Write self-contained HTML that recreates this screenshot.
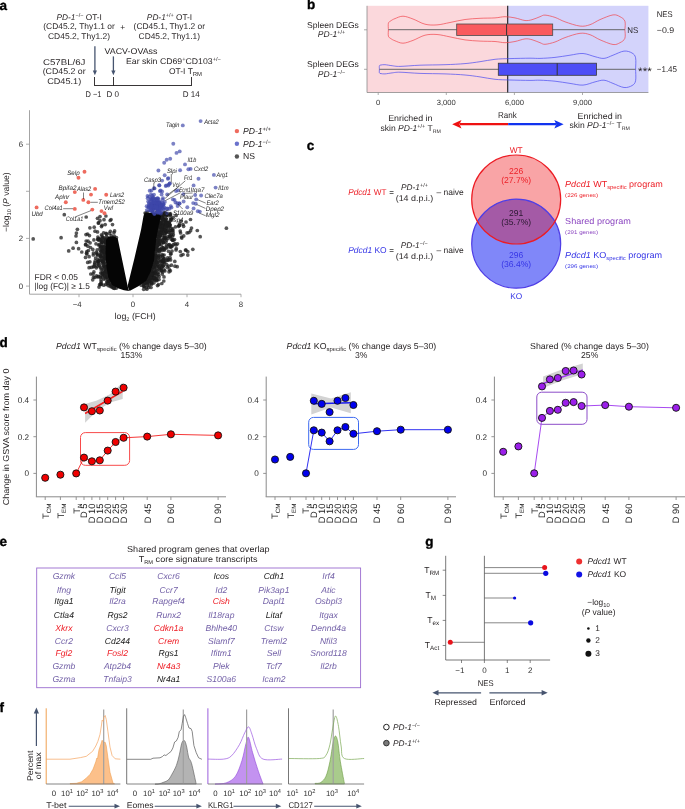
<!DOCTYPE html>
<html><head><meta charset="utf-8"><style>
html,body{margin:0;padding:0;background:#fff;}
svg{display:block;font-family:"Liberation Sans", sans-serif;-webkit-font-smoothing:antialiased;text-rendering:geometricPrecision;will-change:transform;}
</style></head><body>
<svg width="685" height="809" viewBox="0 0 685 809" fill="#231f20">
<text x="-0.60" y="9.90" font-size="13.5" fill="#000" font-weight="bold" stroke="#000" stroke-width="0.35">a</text>
<text x="79.20" y="19.60" font-size="8.3" text-anchor="middle"><tspan font-style="italic">PD-1</tspan><tspan baseline-shift="3.2" font-size="5.5">−/−</tspan> OT-I</text>
<text x="79.00" y="29.00" font-size="8.3" text-anchor="middle" textLength="71.50" lengthAdjust="spacingAndGlyphs">(CD45.2, Thy1.1 or</text>
<text x="79.00" y="38.60" font-size="8.3" text-anchor="middle" textLength="62.00" lengthAdjust="spacingAndGlyphs">CD45.2, Thy1.2)</text>
<text x="122.80" y="29.80" font-size="8.3" text-anchor="middle">+</text>
<text x="169.50" y="19.60" font-size="8.3" text-anchor="middle"><tspan font-style="italic">PD-1</tspan><tspan baseline-shift="3.2" font-size="5.5">+/+</tspan> OT-I</text>
<text x="169.30" y="29.00" font-size="8.3" text-anchor="middle" textLength="71.40" lengthAdjust="spacingAndGlyphs">(CD45.1, Thy1.2 or</text>
<text x="169.30" y="38.60" font-size="8.3" text-anchor="middle" textLength="61.40" lengthAdjust="spacingAndGlyphs">CD45.2, Thy1.1)</text>
<line x1="94.90" y1="46.20" x2="94.90" y2="71.20" stroke="#46546f" stroke-width="1.3" />
<path d="M92.80,70.40 L97.00,70.40 L94.90,75.20 Z" fill="#46546f" stroke="none" stroke-width="0.6" />
<line x1="113.40" y1="56.40" x2="113.40" y2="71.20" stroke="#46546f" stroke-width="1.3" />
<path d="M111.30,70.40 L115.50,70.40 L113.40,75.20 Z" fill="#46546f" stroke="none" stroke-width="0.6" />
<text x="104.50" y="53.70" font-size="8.3" textLength="53.00" lengthAdjust="spacingAndGlyphs">VACV-OVAss</text>
<text x="64.20" y="64.80" font-size="8.3" text-anchor="middle" textLength="42.50" lengthAdjust="spacingAndGlyphs">C57BL/6J</text>
<text x="64.20" y="74.40" font-size="8.3" text-anchor="middle" textLength="43.00" lengthAdjust="spacingAndGlyphs">(CD45.2 or</text>
<text x="64.20" y="83.90" font-size="8.3" text-anchor="middle" textLength="34.00" lengthAdjust="spacingAndGlyphs">CD45.1)</text>
<text x="126.00" y="63.90" font-size="8.3" textLength="95.00" lengthAdjust="spacingAndGlyphs">Ear skin CD69<tspan baseline-shift="3.2" font-size="5.5">+</tspan>CD103<tspan baseline-shift="3.2" font-size="5.5">+/−</tspan></text>
<text x="202.00" y="73.90" font-size="8.3" text-anchor="end" textLength="33.00" lengthAdjust="spacingAndGlyphs">OT-I T<tspan baseline-shift="-2.0" font-size="5.8">RM</tspan></text>
<line x1="94.50" y1="85.50" x2="191.50" y2="85.50" stroke="#231f20" stroke-width="0.9" />
<line x1="94.50" y1="77.00" x2="94.50" y2="85.90" stroke="#231f20" stroke-width="0.9" />
<line x1="113.50" y1="77.00" x2="113.50" y2="85.90" stroke="#231f20" stroke-width="0.9" />
<line x1="191.50" y1="77.00" x2="191.50" y2="85.90" stroke="#231f20" stroke-width="0.9" />
<text x="93.50" y="97.20" font-size="8.3" text-anchor="middle" textLength="16.00" lengthAdjust="spacingAndGlyphs">D −1</text>
<text x="112.80" y="97.20" font-size="8.3" text-anchor="middle" textLength="12.50" lengthAdjust="spacingAndGlyphs">D 0</text>
<text x="191.30" y="97.20" font-size="8.3" text-anchor="middle" textLength="17.00" lengthAdjust="spacingAndGlyphs">D 14</text>
<line x1="29.50" y1="110.20" x2="29.50" y2="294.20" stroke="#9a9a9a" stroke-width="0.9" />
<line x1="29.50" y1="294.20" x2="241.00" y2="294.20" stroke="#9a9a9a" stroke-width="0.9" />
<line x1="26.00" y1="144.20" x2="29.50" y2="144.20" stroke="#9a9a9a" stroke-width="0.8" />
<text x="23.00" y="147.00" font-size="7.8" text-anchor="end" fill="#333">6</text>
<line x1="26.00" y1="191.30" x2="29.50" y2="191.30" stroke="#9a9a9a" stroke-width="0.8" />
<line x1="26.00" y1="238.40" x2="29.50" y2="238.40" stroke="#9a9a9a" stroke-width="0.8" />
<text x="23.00" y="241.20" font-size="7.8" text-anchor="end" fill="#333">2</text>
<line x1="26.00" y1="286.10" x2="29.50" y2="286.10" stroke="#9a9a9a" stroke-width="0.8" />
<text x="23.00" y="288.90" font-size="7.8" text-anchor="end" fill="#333">0</text>
<line x1="79.00" y1="294.20" x2="79.00" y2="297.20" stroke="#9a9a9a" stroke-width="0.8" />
<text x="77.20" y="307.40" font-size="7.8" text-anchor="middle" fill="#333">−4</text>
<line x1="133.00" y1="294.20" x2="133.00" y2="297.20" stroke="#9a9a9a" stroke-width="0.8" />
<text x="133.00" y="307.40" font-size="7.8" text-anchor="middle" fill="#333">0</text>
<line x1="187.00" y1="294.20" x2="187.00" y2="297.20" stroke="#9a9a9a" stroke-width="0.8" />
<text x="187.00" y="307.40" font-size="7.8" text-anchor="middle" fill="#333">4</text>
<line x1="241.00" y1="294.20" x2="241.00" y2="297.20" stroke="#9a9a9a" stroke-width="0.8" />
<text x="241.00" y="307.40" font-size="7.8" text-anchor="middle" fill="#333">8</text>
<text x="135.20" y="319.00" font-size="8.5" text-anchor="middle" textLength="41.20" lengthAdjust="spacingAndGlyphs">log<tspan baseline-shift="-1.8" font-size="5.5">2</tspan> (FCH)</text>
<text x="0.00" y="0.00" font-size="8.5" text-anchor="middle" textLength="59.50" lengthAdjust="spacingAndGlyphs" transform="translate(8.9,202.2) rotate(-90)">−log<tspan baseline-shift="-1.8" font-size="5.6">10</tspan> (<tspan font-style="italic">P</tspan> value)</text>
<text x="34.60" y="279.60" font-size="8.5" textLength="43.40" lengthAdjust="spacingAndGlyphs">FDR &lt; 0.05</text>
<text x="34.60" y="289.00" font-size="8.5" textLength="55.20" lengthAdjust="spacingAndGlyphs">|log (FC)| ≥ 1.5</text>
<g fill="#1c1c1c" fill-opacity="0.74">
<circle cx="101.5" cy="226.6" r="1.85"/>
<circle cx="103.8" cy="249.7" r="1.85"/>
<circle cx="101.0" cy="247.0" r="1.85"/>
<circle cx="105.2" cy="259.5" r="1.85"/>
<circle cx="109.9" cy="281.0" r="1.85"/>
<circle cx="100.9" cy="251.5" r="1.85"/>
<circle cx="105.5" cy="252.8" r="1.85"/>
<circle cx="110.0" cy="284.3" r="1.85"/>
<circle cx="105.0" cy="239.3" r="1.85"/>
<circle cx="110.9" cy="284.0" r="1.85"/>
<circle cx="91.3" cy="267.3" r="1.85"/>
<circle cx="88.4" cy="250.6" r="1.85"/>
<circle cx="102.6" cy="276.8" r="1.85"/>
<circle cx="100.7" cy="273.0" r="1.85"/>
<circle cx="104.1" cy="249.6" r="1.85"/>
<circle cx="102.0" cy="242.2" r="1.85"/>
<circle cx="104.9" cy="258.0" r="1.85"/>
<circle cx="102.4" cy="272.5" r="1.85"/>
<circle cx="107.8" cy="279.1" r="1.85"/>
<circle cx="101.9" cy="273.7" r="1.85"/>
<circle cx="114.3" cy="236.2" r="1.85"/>
<circle cx="107.4" cy="283.7" r="1.85"/>
<circle cx="104.3" cy="252.5" r="1.85"/>
<circle cx="103.6" cy="232.8" r="1.85"/>
<circle cx="87.9" cy="246.2" r="1.85"/>
<circle cx="100.4" cy="276.4" r="1.85"/>
<circle cx="103.9" cy="275.4" r="1.85"/>
<circle cx="93.9" cy="271.9" r="1.85"/>
<circle cx="89.4" cy="235.6" r="1.85"/>
<circle cx="87.6" cy="234.0" r="1.85"/>
<circle cx="86.9" cy="254.1" r="1.85"/>
<circle cx="105.1" cy="249.4" r="1.85"/>
<circle cx="100.9" cy="268.0" r="1.85"/>
<circle cx="105.2" cy="271.2" r="1.85"/>
<circle cx="105.4" cy="266.2" r="1.85"/>
<circle cx="100.4" cy="256.5" r="1.85"/>
<circle cx="102.4" cy="250.6" r="1.85"/>
<circle cx="107.1" cy="274.3" r="1.85"/>
<circle cx="97.7" cy="255.6" r="1.85"/>
<circle cx="101.2" cy="259.9" r="1.85"/>
<circle cx="104.0" cy="256.7" r="1.85"/>
<circle cx="105.5" cy="258.2" r="1.85"/>
<circle cx="97.7" cy="261.5" r="1.85"/>
<circle cx="104.0" cy="219.7" r="1.85"/>
<circle cx="113.7" cy="288.2" r="1.85"/>
<circle cx="105.0" cy="254.5" r="1.85"/>
<circle cx="88.1" cy="241.2" r="1.85"/>
<circle cx="94.8" cy="277.5" r="1.85"/>
<circle cx="96.0" cy="243.8" r="1.85"/>
<circle cx="105.0" cy="241.2" r="1.85"/>
<circle cx="102.3" cy="250.1" r="1.85"/>
<circle cx="102.7" cy="246.4" r="1.85"/>
<circle cx="103.5" cy="266.0" r="1.85"/>
<circle cx="113.9" cy="286.4" r="1.85"/>
<circle cx="111.7" cy="285.0" r="1.85"/>
<circle cx="98.1" cy="259.4" r="1.85"/>
<circle cx="104.0" cy="268.1" r="1.85"/>
<circle cx="86.0" cy="234.6" r="1.85"/>
<circle cx="105.2" cy="271.8" r="1.85"/>
<circle cx="106.8" cy="272.9" r="1.85"/>
<circle cx="104.1" cy="262.8" r="1.85"/>
<circle cx="97.5" cy="218.3" r="1.85"/>
<circle cx="105.9" cy="284.4" r="1.85"/>
<circle cx="107.5" cy="281.2" r="1.85"/>
<circle cx="113.1" cy="286.5" r="1.85"/>
<circle cx="96.5" cy="253.8" r="1.85"/>
<circle cx="114.6" cy="230.9" r="1.85"/>
<circle cx="101.0" cy="250.7" r="1.85"/>
<circle cx="100.7" cy="239.1" r="1.85"/>
<circle cx="104.0" cy="246.3" r="1.85"/>
<circle cx="106.1" cy="239.6" r="1.85"/>
<circle cx="110.9" cy="285.3" r="1.85"/>
<circle cx="100.6" cy="277.6" r="1.85"/>
<circle cx="93.3" cy="255.0" r="1.85"/>
<circle cx="104.3" cy="250.0" r="1.85"/>
<circle cx="100.7" cy="284.4" r="1.85"/>
<circle cx="107.3" cy="238.1" r="1.85"/>
<circle cx="106.0" cy="270.8" r="1.85"/>
<circle cx="102.9" cy="261.2" r="1.85"/>
<circle cx="105.3" cy="242.8" r="1.85"/>
<circle cx="106.7" cy="276.3" r="1.85"/>
<circle cx="98.3" cy="222.9" r="1.85"/>
<circle cx="101.4" cy="242.5" r="1.85"/>
<circle cx="97.5" cy="231.9" r="1.85"/>
<circle cx="102.0" cy="261.1" r="1.85"/>
<circle cx="105.7" cy="239.9" r="1.85"/>
<circle cx="101.2" cy="281.8" r="1.85"/>
<circle cx="101.1" cy="251.2" r="1.85"/>
<circle cx="102.6" cy="249.9" r="1.85"/>
<circle cx="103.1" cy="252.0" r="1.85"/>
<circle cx="111.3" cy="235.7" r="1.85"/>
<circle cx="90.8" cy="274.0" r="1.85"/>
<circle cx="101.0" cy="254.9" r="1.85"/>
<circle cx="105.1" cy="257.0" r="1.85"/>
<circle cx="101.1" cy="247.6" r="1.85"/>
<circle cx="87.7" cy="262.4" r="1.85"/>
<circle cx="105.2" cy="266.4" r="1.85"/>
<circle cx="93.3" cy="266.8" r="1.85"/>
<circle cx="85.9" cy="244.7" r="1.85"/>
<circle cx="96.3" cy="267.8" r="1.85"/>
<circle cx="101.8" cy="263.5" r="1.85"/>
<circle cx="107.2" cy="273.2" r="1.85"/>
<circle cx="101.0" cy="256.3" r="1.85"/>
<circle cx="94.7" cy="264.3" r="1.85"/>
<circle cx="98.2" cy="263.8" r="1.85"/>
<circle cx="103.7" cy="256.8" r="1.85"/>
<circle cx="99.4" cy="239.3" r="1.85"/>
<circle cx="97.7" cy="276.9" r="1.85"/>
<circle cx="99.1" cy="265.3" r="1.85"/>
<circle cx="106.3" cy="271.2" r="1.85"/>
<circle cx="114.4" cy="288.3" r="1.85"/>
<circle cx="102.4" cy="247.6" r="1.85"/>
<circle cx="102.2" cy="240.9" r="1.85"/>
<circle cx="101.9" cy="244.5" r="1.85"/>
<circle cx="105.7" cy="247.1" r="1.85"/>
<circle cx="92.7" cy="279.8" r="1.85"/>
<circle cx="107.5" cy="277.5" r="1.85"/>
<circle cx="105.9" cy="277.3" r="1.85"/>
<circle cx="103.6" cy="262.5" r="1.85"/>
<circle cx="112.0" cy="287.3" r="1.85"/>
<circle cx="100.4" cy="246.4" r="1.85"/>
<circle cx="105.6" cy="242.9" r="1.85"/>
<circle cx="104.7" cy="274.1" r="1.85"/>
<circle cx="109.6" cy="280.6" r="1.85"/>
<circle cx="104.6" cy="254.2" r="1.85"/>
<circle cx="101.6" cy="241.2" r="1.85"/>
<circle cx="106.6" cy="268.9" r="1.85"/>
<circle cx="98.3" cy="261.4" r="1.85"/>
<circle cx="105.1" cy="258.7" r="1.85"/>
<circle cx="99.0" cy="287.1" r="1.85"/>
<circle cx="106.6" cy="269.2" r="1.85"/>
<circle cx="106.5" cy="268.1" r="1.85"/>
<circle cx="104.8" cy="276.1" r="1.85"/>
<circle cx="93.4" cy="253.1" r="1.85"/>
<circle cx="103.0" cy="269.9" r="1.85"/>
<circle cx="109.1" cy="280.8" r="1.85"/>
<circle cx="105.2" cy="265.0" r="1.85"/>
<circle cx="105.9" cy="216.0" r="1.85"/>
<circle cx="98.1" cy="262.7" r="1.85"/>
<circle cx="105.8" cy="258.4" r="1.85"/>
<circle cx="97.0" cy="266.2" r="1.85"/>
<circle cx="113.6" cy="286.2" r="1.85"/>
<circle cx="105.0" cy="242.2" r="1.85"/>
<circle cx="104.1" cy="257.9" r="1.85"/>
<circle cx="94.6" cy="262.9" r="1.85"/>
<circle cx="106.0" cy="233.3" r="1.85"/>
<circle cx="105.3" cy="257.4" r="1.85"/>
<circle cx="104.2" cy="238.2" r="1.85"/>
<circle cx="101.3" cy="269.9" r="1.85"/>
<circle cx="104.4" cy="252.4" r="1.85"/>
<circle cx="97.9" cy="239.3" r="1.85"/>
<circle cx="100.0" cy="220.7" r="1.85"/>
<circle cx="97.2" cy="249.9" r="1.85"/>
<circle cx="90.1" cy="242.8" r="1.85"/>
<circle cx="97.8" cy="239.4" r="1.85"/>
<circle cx="104.1" cy="253.2" r="1.85"/>
<circle cx="116.2" cy="288.2" r="1.85"/>
<circle cx="110.2" cy="220.5" r="1.85"/>
<circle cx="106.8" cy="282.0" r="1.85"/>
<circle cx="86.5" cy="253.2" r="1.85"/>
<circle cx="100.0" cy="248.4" r="1.85"/>
<circle cx="97.8" cy="254.2" r="1.85"/>
<circle cx="106.1" cy="268.2" r="1.85"/>
<circle cx="104.1" cy="247.0" r="1.85"/>
<circle cx="106.2" cy="270.5" r="1.85"/>
<circle cx="102.0" cy="225.3" r="1.85"/>
<circle cx="105.1" cy="262.2" r="1.85"/>
<circle cx="102.1" cy="236.1" r="1.85"/>
<circle cx="99.5" cy="244.5" r="1.85"/>
<circle cx="103.9" cy="252.1" r="1.85"/>
<circle cx="102.9" cy="260.9" r="1.85"/>
<circle cx="102.9" cy="273.9" r="1.85"/>
<circle cx="102.7" cy="241.9" r="1.85"/>
<circle cx="104.8" cy="272.5" r="1.85"/>
<circle cx="105.8" cy="244.8" r="1.85"/>
<circle cx="103.7" cy="279.1" r="1.85"/>
<circle cx="101.7" cy="258.1" r="1.85"/>
<circle cx="99.4" cy="260.4" r="1.85"/>
<circle cx="104.1" cy="258.8" r="1.85"/>
<circle cx="110.3" cy="231.3" r="1.85"/>
<circle cx="90.5" cy="247.5" r="1.85"/>
<circle cx="105.2" cy="278.8" r="1.85"/>
<circle cx="108.9" cy="281.0" r="1.85"/>
<circle cx="102.3" cy="261.8" r="1.85"/>
<circle cx="106.9" cy="277.2" r="1.85"/>
<circle cx="112.3" cy="286.6" r="1.85"/>
<circle cx="110.2" cy="286.5" r="1.85"/>
<circle cx="95.6" cy="258.1" r="1.85"/>
<circle cx="116.4" cy="237.6" r="1.85"/>
<circle cx="103.7" cy="285.2" r="1.85"/>
<circle cx="106.5" cy="233.8" r="1.85"/>
<circle cx="108.3" cy="283.3" r="1.85"/>
<circle cx="100.9" cy="283.3" r="1.85"/>
<circle cx="93.1" cy="273.9" r="1.85"/>
<circle cx="95.2" cy="260.9" r="1.85"/>
<circle cx="108.2" cy="285.6" r="1.85"/>
<circle cx="86.8" cy="251.7" r="1.85"/>
<circle cx="98.7" cy="238.6" r="1.85"/>
<circle cx="104.8" cy="247.5" r="1.85"/>
<circle cx="104.5" cy="266.9" r="1.85"/>
<circle cx="103.5" cy="265.7" r="1.85"/>
<circle cx="108.9" cy="281.3" r="1.85"/>
<circle cx="100.9" cy="256.7" r="1.85"/>
<circle cx="102.2" cy="238.1" r="1.85"/>
<circle cx="101.0" cy="279.9" r="1.85"/>
<circle cx="99.6" cy="284.7" r="1.85"/>
<circle cx="101.1" cy="284.3" r="1.85"/>
<circle cx="114.3" cy="286.5" r="1.85"/>
<circle cx="104.4" cy="247.7" r="1.85"/>
<circle cx="99.0" cy="240.4" r="1.85"/>
<circle cx="96.5" cy="275.8" r="1.85"/>
<circle cx="100.3" cy="254.5" r="1.85"/>
<circle cx="180.3" cy="251.5" r="1.85"/>
<circle cx="154.8" cy="253.2" r="1.85"/>
<circle cx="162.7" cy="261.7" r="1.85"/>
<circle cx="157.1" cy="235.3" r="1.85"/>
<circle cx="159.4" cy="243.9" r="1.85"/>
<circle cx="152.0" cy="268.0" r="1.85"/>
<circle cx="158.0" cy="243.4" r="1.85"/>
<circle cx="169.0" cy="271.8" r="1.85"/>
<circle cx="172.7" cy="230.0" r="1.85"/>
<circle cx="146.3" cy="213.2" r="1.85"/>
<circle cx="152.1" cy="270.9" r="1.85"/>
<circle cx="164.5" cy="249.9" r="1.85"/>
<circle cx="151.0" cy="287.5" r="1.85"/>
<circle cx="157.2" cy="256.4" r="1.85"/>
<circle cx="162.2" cy="216.3" r="1.85"/>
<circle cx="155.6" cy="255.7" r="1.85"/>
<circle cx="159.5" cy="244.6" r="1.85"/>
<circle cx="162.2" cy="233.4" r="1.85"/>
<circle cx="181.8" cy="238.1" r="1.85"/>
<circle cx="148.3" cy="277.2" r="1.85"/>
<circle cx="156.5" cy="242.3" r="1.85"/>
<circle cx="172.3" cy="246.0" r="1.85"/>
<circle cx="163.7" cy="258.5" r="1.85"/>
<circle cx="163.1" cy="262.3" r="1.85"/>
<circle cx="167.4" cy="215.1" r="1.85"/>
<circle cx="168.8" cy="259.7" r="1.85"/>
<circle cx="159.6" cy="234.4" r="1.85"/>
<circle cx="155.7" cy="256.1" r="1.85"/>
<circle cx="151.5" cy="282.3" r="1.85"/>
<circle cx="154.3" cy="264.0" r="1.85"/>
<circle cx="183.0" cy="224.5" r="1.85"/>
<circle cx="154.3" cy="274.1" r="1.85"/>
<circle cx="165.2" cy="239.1" r="1.85"/>
<circle cx="158.8" cy="262.0" r="1.85"/>
<circle cx="164.7" cy="220.1" r="1.85"/>
<circle cx="160.2" cy="240.2" r="1.85"/>
<circle cx="153.6" cy="277.9" r="1.85"/>
<circle cx="190.6" cy="230.7" r="1.85"/>
<circle cx="156.2" cy="243.3" r="1.85"/>
<circle cx="166.4" cy="215.5" r="1.85"/>
<circle cx="146.9" cy="279.5" r="1.85"/>
<circle cx="166.0" cy="213.6" r="1.85"/>
<circle cx="161.2" cy="268.4" r="1.85"/>
<circle cx="169.7" cy="236.8" r="1.85"/>
<circle cx="158.8" cy="231.3" r="1.85"/>
<circle cx="161.8" cy="267.3" r="1.85"/>
<circle cx="164.9" cy="220.3" r="1.85"/>
<circle cx="156.5" cy="259.7" r="1.85"/>
<circle cx="152.9" cy="272.8" r="1.85"/>
<circle cx="159.7" cy="234.4" r="1.85"/>
<circle cx="154.0" cy="277.9" r="1.85"/>
<circle cx="157.9" cy="232.1" r="1.85"/>
<circle cx="180.2" cy="231.1" r="1.85"/>
<circle cx="155.8" cy="244.2" r="1.85"/>
<circle cx="154.8" cy="259.2" r="1.85"/>
<circle cx="163.0" cy="214.2" r="1.85"/>
<circle cx="159.6" cy="267.8" r="1.85"/>
<circle cx="163.7" cy="219.3" r="1.85"/>
<circle cx="160.1" cy="223.5" r="1.85"/>
<circle cx="148.7" cy="287.5" r="1.85"/>
<circle cx="169.1" cy="222.6" r="1.85"/>
<circle cx="161.5" cy="244.2" r="1.85"/>
<circle cx="147.5" cy="212.0" r="1.85"/>
<circle cx="159.8" cy="269.0" r="1.85"/>
<circle cx="160.6" cy="232.0" r="1.85"/>
<circle cx="163.9" cy="239.0" r="1.85"/>
<circle cx="164.2" cy="212.7" r="1.85"/>
<circle cx="160.3" cy="224.3" r="1.85"/>
<circle cx="157.5" cy="245.2" r="1.85"/>
<circle cx="162.7" cy="255.5" r="1.85"/>
<circle cx="170.9" cy="230.3" r="1.85"/>
<circle cx="166.9" cy="227.9" r="1.85"/>
<circle cx="164.7" cy="238.0" r="1.85"/>
<circle cx="163.6" cy="217.9" r="1.85"/>
<circle cx="149.8" cy="279.6" r="1.85"/>
<circle cx="165.5" cy="224.3" r="1.85"/>
<circle cx="163.5" cy="237.6" r="1.85"/>
<circle cx="187.1" cy="232.9" r="1.85"/>
<circle cx="150.6" cy="274.7" r="1.85"/>
<circle cx="181.0" cy="221.2" r="1.85"/>
<circle cx="152.6" cy="278.5" r="1.85"/>
<circle cx="153.6" cy="266.6" r="1.85"/>
<circle cx="178.6" cy="226.3" r="1.85"/>
<circle cx="172.8" cy="228.7" r="1.85"/>
<circle cx="165.8" cy="218.5" r="1.85"/>
<circle cx="166.1" cy="214.1" r="1.85"/>
<circle cx="155.3" cy="271.5" r="1.85"/>
<circle cx="163.5" cy="242.4" r="1.85"/>
<circle cx="153.2" cy="266.4" r="1.85"/>
<circle cx="170.6" cy="245.9" r="1.85"/>
<circle cx="173.3" cy="234.8" r="1.85"/>
<circle cx="161.5" cy="270.7" r="1.85"/>
<circle cx="154.8" cy="263.6" r="1.85"/>
<circle cx="161.2" cy="249.3" r="1.85"/>
<circle cx="156.8" cy="236.6" r="1.85"/>
<circle cx="151.3" cy="270.5" r="1.85"/>
<circle cx="177.5" cy="243.8" r="1.85"/>
<circle cx="162.4" cy="226.7" r="1.85"/>
<circle cx="153.9" cy="266.4" r="1.85"/>
<circle cx="161.5" cy="231.8" r="1.85"/>
<circle cx="156.8" cy="251.2" r="1.85"/>
<circle cx="161.3" cy="270.7" r="1.85"/>
<circle cx="157.2" cy="265.1" r="1.85"/>
<circle cx="156.2" cy="261.3" r="1.85"/>
<circle cx="168.9" cy="266.2" r="1.85"/>
<circle cx="155.7" cy="269.5" r="1.85"/>
<circle cx="154.0" cy="282.8" r="1.85"/>
<circle cx="146.1" cy="281.6" r="1.85"/>
<circle cx="163.0" cy="260.1" r="1.85"/>
<circle cx="158.0" cy="250.2" r="1.85"/>
<circle cx="165.9" cy="222.2" r="1.85"/>
<circle cx="151.5" cy="284.2" r="1.85"/>
<circle cx="164.8" cy="262.8" r="1.85"/>
<circle cx="171.5" cy="265.2" r="1.85"/>
<circle cx="175.0" cy="266.2" r="1.85"/>
<circle cx="154.6" cy="272.7" r="1.85"/>
<circle cx="192.8" cy="249.3" r="1.85"/>
<circle cx="173.1" cy="217.3" r="1.85"/>
<circle cx="163.2" cy="215.4" r="1.85"/>
<circle cx="170.4" cy="270.8" r="1.85"/>
<circle cx="150.1" cy="278.2" r="1.85"/>
<circle cx="159.8" cy="236.6" r="1.85"/>
<circle cx="147.2" cy="282.1" r="1.85"/>
<circle cx="143.2" cy="283.0" r="1.85"/>
<circle cx="154.6" cy="280.2" r="1.85"/>
<circle cx="165.0" cy="233.5" r="1.85"/>
<circle cx="163.1" cy="265.0" r="1.85"/>
<circle cx="161.4" cy="220.9" r="1.85"/>
<circle cx="155.8" cy="249.2" r="1.85"/>
<circle cx="156.5" cy="242.2" r="1.85"/>
<circle cx="155.9" cy="245.9" r="1.85"/>
<circle cx="150.0" cy="274.5" r="1.85"/>
<circle cx="155.4" cy="247.4" r="1.85"/>
<circle cx="170.6" cy="259.9" r="1.85"/>
<circle cx="159.3" cy="234.7" r="1.85"/>
<circle cx="166.4" cy="222.3" r="1.85"/>
<circle cx="163.1" cy="266.3" r="1.85"/>
<circle cx="168.2" cy="236.5" r="1.85"/>
<circle cx="144.9" cy="283.2" r="1.85"/>
<circle cx="180.6" cy="233.0" r="1.85"/>
<circle cx="170.5" cy="219.7" r="1.85"/>
<circle cx="170.6" cy="213.9" r="1.85"/>
<circle cx="163.4" cy="225.6" r="1.85"/>
<circle cx="169.9" cy="226.5" r="1.85"/>
<circle cx="156.7" cy="262.2" r="1.85"/>
<circle cx="162.7" cy="228.6" r="1.85"/>
<circle cx="157.3" cy="273.7" r="1.85"/>
<circle cx="164.1" cy="269.9" r="1.85"/>
<circle cx="162.5" cy="235.0" r="1.85"/>
<circle cx="161.6" cy="231.2" r="1.85"/>
<circle cx="153.9" cy="261.4" r="1.85"/>
<circle cx="169.7" cy="224.3" r="1.85"/>
<circle cx="151.8" cy="278.3" r="1.85"/>
<circle cx="168.5" cy="227.7" r="1.85"/>
<circle cx="160.4" cy="265.2" r="1.85"/>
<circle cx="165.6" cy="224.8" r="1.85"/>
<circle cx="156.1" cy="262.1" r="1.85"/>
<circle cx="151.9" cy="275.1" r="1.85"/>
<circle cx="166.2" cy="214.7" r="1.85"/>
<circle cx="162.2" cy="227.7" r="1.85"/>
<circle cx="156.7" cy="236.6" r="1.85"/>
<circle cx="166.0" cy="242.1" r="1.85"/>
<circle cx="163.1" cy="242.1" r="1.85"/>
<circle cx="170.3" cy="214.8" r="1.85"/>
<circle cx="158.6" cy="257.7" r="1.85"/>
<circle cx="162.1" cy="261.1" r="1.85"/>
<circle cx="157.9" cy="239.3" r="1.85"/>
<circle cx="166.3" cy="219.1" r="1.85"/>
<circle cx="152.6" cy="272.1" r="1.85"/>
<circle cx="156.1" cy="257.0" r="1.85"/>
<circle cx="171.0" cy="246.3" r="1.85"/>
<circle cx="155.6" cy="255.9" r="1.85"/>
<circle cx="159.9" cy="259.6" r="1.85"/>
<circle cx="154.3" cy="272.5" r="1.85"/>
<circle cx="181.1" cy="255.4" r="1.85"/>
<circle cx="158.4" cy="230.8" r="1.85"/>
<circle cx="162.7" cy="240.5" r="1.85"/>
<circle cx="156.2" cy="250.8" r="1.85"/>
<circle cx="155.0" cy="259.1" r="1.85"/>
<circle cx="166.6" cy="264.5" r="1.85"/>
<circle cx="158.6" cy="274.6" r="1.85"/>
<circle cx="161.9" cy="247.4" r="1.85"/>
<circle cx="170.1" cy="225.3" r="1.85"/>
<circle cx="164.0" cy="276.9" r="1.85"/>
<circle cx="160.4" cy="224.1" r="1.85"/>
<circle cx="159.0" cy="226.6" r="1.85"/>
<circle cx="159.9" cy="249.0" r="1.85"/>
<circle cx="150.5" cy="276.6" r="1.85"/>
<circle cx="141.2" cy="285.2" r="1.85"/>
<circle cx="175.5" cy="226.8" r="1.85"/>
<circle cx="169.9" cy="221.3" r="1.85"/>
<circle cx="172.4" cy="239.7" r="1.85"/>
<circle cx="171.1" cy="239.1" r="1.85"/>
<circle cx="156.8" cy="276.2" r="1.85"/>
<circle cx="159.3" cy="223.6" r="1.85"/>
<circle cx="161.2" cy="264.7" r="1.85"/>
<circle cx="162.5" cy="257.2" r="1.85"/>
<circle cx="156.5" cy="249.2" r="1.85"/>
<circle cx="161.8" cy="283.5" r="1.85"/>
<circle cx="166.4" cy="245.0" r="1.85"/>
<circle cx="161.8" cy="215.3" r="1.85"/>
<circle cx="151.0" cy="271.4" r="1.85"/>
<circle cx="151.1" cy="274.1" r="1.85"/>
<circle cx="169.7" cy="230.6" r="1.85"/>
<circle cx="163.7" cy="229.5" r="1.85"/>
<circle cx="166.4" cy="221.7" r="1.85"/>
<circle cx="164.1" cy="255.0" r="1.85"/>
<circle cx="146.4" cy="287.8" r="1.85"/>
<circle cx="162.5" cy="219.5" r="1.85"/>
<circle cx="151.5" cy="277.0" r="1.85"/>
<circle cx="152.2" cy="274.8" r="1.85"/>
<circle cx="156.7" cy="270.3" r="1.85"/>
<circle cx="154.2" cy="267.5" r="1.85"/>
<circle cx="149.3" cy="278.8" r="1.85"/>
<circle cx="146.6" cy="280.5" r="1.85"/>
<circle cx="168.7" cy="223.1" r="1.85"/>
<circle cx="159.6" cy="252.0" r="1.85"/>
<circle cx="166.3" cy="248.2" r="1.85"/>
<circle cx="157.2" cy="243.7" r="1.85"/>
<circle cx="164.7" cy="237.8" r="1.85"/>
<circle cx="150.7" cy="278.7" r="1.85"/>
<circle cx="148.8" cy="280.9" r="1.85"/>
<circle cx="150.2" cy="278.3" r="1.85"/>
<circle cx="157.1" cy="266.4" r="1.85"/>
<circle cx="146.9" cy="283.9" r="1.85"/>
<circle cx="164.3" cy="227.9" r="1.85"/>
<circle cx="154.1" cy="277.8" r="1.85"/>
<circle cx="152.6" cy="276.7" r="1.85"/>
<circle cx="171.2" cy="219.1" r="1.85"/>
<circle cx="163.5" cy="224.4" r="1.85"/>
<circle cx="159.5" cy="242.8" r="1.85"/>
<circle cx="152.8" cy="274.6" r="1.85"/>
<circle cx="164.9" cy="270.9" r="1.85"/>
<circle cx="143.7" cy="289.3" r="1.85"/>
<circle cx="160.9" cy="222.8" r="1.85"/>
<circle cx="158.3" cy="228.4" r="1.85"/>
<circle cx="168.9" cy="232.4" r="1.85"/>
<circle cx="149.2" cy="285.0" r="1.85"/>
<circle cx="163.3" cy="226.7" r="1.85"/>
<circle cx="168.5" cy="244.8" r="1.85"/>
<circle cx="166.2" cy="232.0" r="1.85"/>
<circle cx="166.0" cy="232.2" r="1.85"/>
<circle cx="160.2" cy="226.6" r="1.85"/>
<circle cx="154.5" cy="260.3" r="1.85"/>
<circle cx="158.3" cy="272.2" r="1.85"/>
<circle cx="151.8" cy="278.2" r="1.85"/>
<circle cx="174.5" cy="239.6" r="1.85"/>
<circle cx="154.4" cy="268.6" r="1.85"/>
<circle cx="156.2" cy="278.0" r="1.85"/>
<circle cx="157.1" cy="249.4" r="1.85"/>
<circle cx="152.7" cy="212.4" r="1.85"/>
<circle cx="161.0" cy="217.9" r="1.85"/>
<circle cx="147.7" cy="285.4" r="1.85"/>
<circle cx="144.5" cy="283.1" r="1.85"/>
<circle cx="175.0" cy="243.7" r="1.85"/>
<circle cx="146.8" cy="289.2" r="1.85"/>
<circle cx="158.5" cy="269.1" r="1.85"/>
<circle cx="169.3" cy="225.3" r="1.85"/>
<circle cx="200.2" cy="236.7" r="1.85"/>
<circle cx="148.9" cy="275.4" r="1.85"/>
<circle cx="162.6" cy="271.9" r="1.85"/>
<circle cx="150.4" cy="275.3" r="1.85"/>
<circle cx="157.1" cy="243.9" r="1.85"/>
<circle cx="166.2" cy="247.2" r="1.85"/>
<circle cx="145.2" cy="283.1" r="1.85"/>
<circle cx="170.9" cy="247.3" r="1.85"/>
<circle cx="159.1" cy="276.5" r="1.85"/>
<circle cx="151.9" cy="283.4" r="1.85"/>
<circle cx="166.6" cy="240.1" r="1.85"/>
<circle cx="153.7" cy="279.5" r="1.85"/>
<circle cx="157.5" cy="285.6" r="1.85"/>
<circle cx="164.0" cy="261.9" r="1.85"/>
<circle cx="159.8" cy="212.0" r="1.85"/>
<circle cx="165.5" cy="222.8" r="1.85"/>
<circle cx="157.3" cy="236.6" r="1.85"/>
<circle cx="158.4" cy="240.0" r="1.85"/>
<circle cx="155.3" cy="273.1" r="1.85"/>
<circle cx="166.5" cy="214.0" r="1.85"/>
<circle cx="173.3" cy="244.6" r="1.85"/>
<circle cx="187.8" cy="251.7" r="1.85"/>
<circle cx="155.6" cy="278.7" r="1.85"/>
<circle cx="155.4" cy="248.0" r="1.85"/>
<circle cx="155.2" cy="263.5" r="1.85"/>
<circle cx="156.2" cy="247.0" r="1.85"/>
<circle cx="158.5" cy="236.0" r="1.85"/>
<circle cx="171.4" cy="234.8" r="1.85"/>
<circle cx="153.3" cy="265.9" r="1.85"/>
<circle cx="153.7" cy="278.0" r="1.85"/>
<circle cx="150.3" cy="272.9" r="1.85"/>
<circle cx="162.1" cy="223.4" r="1.85"/>
<circle cx="154.2" cy="277.4" r="1.85"/>
<circle cx="159.9" cy="235.8" r="1.85"/>
<circle cx="165.3" cy="231.1" r="1.85"/>
<circle cx="160.4" cy="256.6" r="1.85"/>
<circle cx="167.0" cy="215.0" r="1.85"/>
<circle cx="170.2" cy="215.7" r="1.85"/>
<circle cx="156.9" cy="266.4" r="1.85"/>
<circle cx="147.9" cy="282.5" r="1.85"/>
<circle cx="160.3" cy="235.4" r="1.85"/>
<circle cx="167.1" cy="226.2" r="1.85"/>
<circle cx="150.1" cy="280.5" r="1.85"/>
<circle cx="159.1" cy="266.5" r="1.85"/>
<circle cx="159.0" cy="255.8" r="1.85"/>
<circle cx="156.7" cy="280.7" r="1.85"/>
<circle cx="161.2" cy="261.3" r="1.85"/>
<circle cx="145.1" cy="213.0" r="1.85"/>
<circle cx="154.8" cy="258.7" r="1.85"/>
<circle cx="160.6" cy="235.0" r="1.85"/>
<circle cx="161.8" cy="226.9" r="1.85"/>
<circle cx="165.4" cy="214.2" r="1.85"/>
<circle cx="163.1" cy="247.7" r="1.85"/>
<circle cx="162.1" cy="230.4" r="1.85"/>
<circle cx="162.9" cy="218.7" r="1.85"/>
<circle cx="158.1" cy="233.8" r="1.85"/>
<circle cx="158.2" cy="232.6" r="1.85"/>
<circle cx="157.9" cy="264.6" r="1.85"/>
<circle cx="157.5" cy="262.6" r="1.85"/>
<circle cx="179.6" cy="223.8" r="1.85"/>
<circle cx="165.9" cy="237.9" r="1.85"/>
<circle cx="157.0" cy="246.8" r="1.85"/>
<circle cx="144.3" cy="286.6" r="1.85"/>
<circle cx="164.4" cy="260.6" r="1.85"/>
<circle cx="147.5" cy="280.2" r="1.85"/>
<circle cx="154.1" cy="260.1" r="1.85"/>
<circle cx="169.5" cy="244.6" r="1.85"/>
<circle cx="167.8" cy="238.5" r="1.85"/>
<circle cx="161.9" cy="222.6" r="1.85"/>
<circle cx="158.9" cy="251.1" r="1.85"/>
<circle cx="157.1" cy="240.7" r="1.85"/>
<circle cx="156.6" cy="240.9" r="1.85"/>
<circle cx="152.7" cy="274.4" r="1.85"/>
<circle cx="158.5" cy="284.7" r="1.85"/>
<circle cx="162.0" cy="218.3" r="1.85"/>
<circle cx="171.6" cy="219.0" r="1.85"/>
<circle cx="151.6" cy="274.7" r="1.85"/>
<circle cx="164.1" cy="214.8" r="1.85"/>
<circle cx="157.6" cy="239.8" r="1.85"/>
<circle cx="163.4" cy="224.8" r="1.85"/>
<circle cx="150.9" cy="271.5" r="1.85"/>
<circle cx="161.9" cy="213.4" r="1.85"/>
<circle cx="152.3" cy="267.6" r="1.85"/>
<circle cx="173.0" cy="232.7" r="1.85"/>
<circle cx="157.4" cy="241.8" r="1.85"/>
<circle cx="156.8" cy="211.8" r="1.85"/>
<circle cx="162.3" cy="274.1" r="1.85"/>
<circle cx="169.4" cy="269.5" r="1.85"/>
<circle cx="159.6" cy="238.3" r="1.85"/>
<circle cx="156.0" cy="253.3" r="1.85"/>
<circle cx="161.7" cy="229.5" r="1.85"/>
<circle cx="170.9" cy="253.4" r="1.85"/>
<circle cx="159.6" cy="227.5" r="1.85"/>
<circle cx="162.6" cy="214.4" r="1.85"/>
<circle cx="144.1" cy="286.2" r="1.85"/>
<circle cx="159.7" cy="224.0" r="1.85"/>
<circle cx="163.6" cy="248.3" r="1.85"/>
<circle cx="164.3" cy="258.6" r="1.85"/>
<circle cx="163.2" cy="231.3" r="1.85"/>
<circle cx="160.2" cy="249.3" r="1.85"/>
<circle cx="157.9" cy="258.3" r="1.85"/>
<circle cx="164.7" cy="237.0" r="1.85"/>
<circle cx="172.7" cy="240.3" r="1.85"/>
<circle cx="143.6" cy="283.9" r="1.85"/>
<circle cx="170.0" cy="257.6" r="1.85"/>
<circle cx="167.6" cy="230.7" r="1.85"/>
<circle cx="163.0" cy="260.2" r="1.85"/>
<circle cx="150.4" cy="277.8" r="1.85"/>
<circle cx="162.6" cy="239.9" r="1.85"/>
<circle cx="169.4" cy="214.1" r="1.85"/>
<circle cx="148.8" cy="282.3" r="1.85"/>
<circle cx="160.2" cy="241.1" r="1.85"/>
<circle cx="157.3" cy="233.5" r="1.85"/>
<circle cx="166.7" cy="223.2" r="1.85"/>
<circle cx="165.7" cy="214.6" r="1.85"/>
<circle cx="165.9" cy="232.9" r="1.85"/>
<circle cx="167.8" cy="223.6" r="1.85"/>
<circle cx="149.2" cy="281.0" r="1.85"/>
<circle cx="165.8" cy="213.5" r="1.85"/>
<circle cx="143.5" cy="286.1" r="1.85"/>
<circle cx="152.9" cy="274.3" r="1.85"/>
<circle cx="162.7" cy="233.1" r="1.85"/>
<circle cx="161.9" cy="250.4" r="1.85"/>
<circle cx="162.4" cy="214.7" r="1.85"/>
<circle cx="148.0" cy="277.4" r="1.85"/>
<circle cx="152.4" cy="266.9" r="1.85"/>
<circle cx="153.4" cy="264.3" r="1.85"/>
<circle cx="158.9" cy="255.2" r="1.85"/>
<circle cx="172.4" cy="236.3" r="1.85"/>
<circle cx="164.9" cy="235.6" r="1.85"/>
<circle cx="174.8" cy="261.4" r="1.85"/>
<circle cx="159.9" cy="261.0" r="1.85"/>
<circle cx="158.2" cy="237.6" r="1.85"/>
<circle cx="157.0" cy="280.0" r="1.85"/>
<circle cx="155.7" cy="255.0" r="1.85"/>
<circle cx="168.7" cy="225.5" r="1.85"/>
<circle cx="167.2" cy="267.2" r="1.85"/>
<circle cx="163.2" cy="265.8" r="1.85"/>
<circle cx="164.6" cy="213.2" r="1.85"/>
<circle cx="179.4" cy="225.5" r="1.85"/>
<circle cx="165.4" cy="230.1" r="1.85"/>
<circle cx="159.7" cy="222.6" r="1.85"/>
<circle cx="159.7" cy="222.7" r="1.85"/>
<circle cx="151.0" cy="278.1" r="1.85"/>
<circle cx="183.6" cy="226.3" r="1.85"/>
<circle cx="163.8" cy="281.0" r="1.85"/>
<circle cx="158.2" cy="244.7" r="1.85"/>
<circle cx="156.9" cy="247.0" r="1.85"/>
<circle cx="157.8" cy="245.7" r="1.85"/>
<circle cx="163.0" cy="225.5" r="1.85"/>
<circle cx="160.2" cy="225.7" r="1.85"/>
<circle cx="163.9" cy="242.5" r="1.85"/>
<circle cx="154.4" cy="264.7" r="1.85"/>
<circle cx="183.7" cy="235.9" r="1.85"/>
<circle cx="187.8" cy="255.1" r="1.85"/>
<circle cx="172.8" cy="230.9" r="1.85"/>
<circle cx="159.0" cy="279.4" r="1.85"/>
<circle cx="151.9" cy="273.0" r="1.85"/>
<circle cx="147.7" cy="279.0" r="1.85"/>
<circle cx="165.6" cy="213.6" r="1.85"/>
<circle cx="161.9" cy="228.9" r="1.85"/>
<circle cx="169.5" cy="224.2" r="1.85"/>
<circle cx="162.4" cy="217.8" r="1.85"/>
<circle cx="161.0" cy="230.1" r="1.85"/>
<circle cx="186.0" cy="250.2" r="1.85"/>
<circle cx="162.2" cy="254.5" r="1.85"/>
<circle cx="170.7" cy="254.2" r="1.85"/>
<circle cx="151.9" cy="280.3" r="1.85"/>
<circle cx="156.3" cy="279.5" r="1.85"/>
<circle cx="167.0" cy="260.0" r="1.85"/>
<circle cx="156.1" cy="242.3" r="1.85"/>
<circle cx="146.9" cy="280.7" r="1.85"/>
<circle cx="155.9" cy="274.1" r="1.85"/>
<circle cx="167.3" cy="260.4" r="1.85"/>
<circle cx="163.2" cy="214.8" r="1.85"/>
<circle cx="151.4" cy="273.8" r="1.85"/>
<circle cx="161.9" cy="225.9" r="1.85"/>
<circle cx="176.1" cy="215.4" r="1.85"/>
<circle cx="173.1" cy="240.2" r="1.85"/>
<circle cx="163.1" cy="222.7" r="1.85"/>
<circle cx="156.4" cy="245.8" r="1.85"/>
<circle cx="155.9" cy="241.9" r="1.85"/>
<circle cx="170.9" cy="228.5" r="1.85"/>
<circle cx="152.5" cy="270.3" r="1.85"/>
<circle cx="167.6" cy="257.9" r="1.85"/>
<circle cx="146.9" cy="282.3" r="1.85"/>
<circle cx="159.9" cy="249.8" r="1.85"/>
<circle cx="165.7" cy="230.8" r="1.85"/>
<circle cx="168.6" cy="251.3" r="1.85"/>
<circle cx="153.7" cy="267.1" r="1.85"/>
<circle cx="161.9" cy="218.4" r="1.85"/>
<circle cx="170.2" cy="236.4" r="1.85"/>
<circle cx="165.3" cy="229.6" r="1.85"/>
<circle cx="166.4" cy="226.0" r="1.85"/>
<circle cx="176.3" cy="248.5" r="1.85"/>
<circle cx="151.0" cy="274.2" r="1.85"/>
<circle cx="163.9" cy="249.8" r="1.85"/>
<circle cx="160.8" cy="241.7" r="1.85"/>
<circle cx="149.3" cy="281.5" r="1.85"/>
<circle cx="170.0" cy="232.9" r="1.85"/>
<circle cx="159.8" cy="227.4" r="1.85"/>
<circle cx="166.6" cy="230.8" r="1.85"/>
<circle cx="163.7" cy="220.3" r="1.85"/>
<circle cx="169.4" cy="246.7" r="1.85"/>
<circle cx="155.0" cy="258.9" r="1.85"/>
<circle cx="170.0" cy="235.7" r="1.85"/>
<circle cx="177.2" cy="266.7" r="1.85"/>
<circle cx="176.0" cy="250.0" r="1.85"/>
<circle cx="165.1" cy="227.4" r="1.85"/>
<circle cx="33.2" cy="238.9" r="1.85"/>
<circle cx="61.1" cy="237.7" r="1.85"/>
<circle cx="64.3" cy="214.7" r="1.85"/>
<circle cx="86.2" cy="217.0" r="1.85"/>
<circle cx="77.4" cy="229.3" r="1.85"/>
<circle cx="76.4" cy="233.1" r="1.85"/>
<circle cx="76.0" cy="236.0" r="1.85"/>
<circle cx="76.4" cy="242.4" r="1.85"/>
<circle cx="73.1" cy="248.2" r="1.85"/>
<circle cx="68.7" cy="250.9" r="1.85"/>
<circle cx="78.6" cy="248.7" r="1.85"/>
<circle cx="81.8" cy="252.0" r="1.85"/>
<circle cx="86.2" cy="241.0" r="1.85"/>
<circle cx="85.5" cy="244.7" r="1.85"/>
<circle cx="89.9" cy="227.8" r="1.85"/>
<circle cx="94.2" cy="227.2" r="1.85"/>
<circle cx="95.0" cy="231.2" r="1.85"/>
<circle cx="98.6" cy="223.1" r="1.85"/>
<circle cx="100.0" cy="216.6" r="1.85"/>
<circle cx="97.9" cy="237.0" r="1.85"/>
<circle cx="93.9" cy="239.9" r="1.85"/>
<circle cx="92.8" cy="249.4" r="1.85"/>
<circle cx="96.4" cy="252.3" r="1.85"/>
<circle cx="85.5" cy="257.4" r="1.85"/>
<circle cx="89.1" cy="256.7" r="1.85"/>
<circle cx="89.9" cy="261.8" r="1.85"/>
<circle cx="89.1" cy="267.7" r="1.85"/>
<circle cx="94.2" cy="266.2" r="1.85"/>
<circle cx="98.6" cy="261.1" r="1.85"/>
<circle cx="101.5" cy="253.8" r="1.85"/>
<circle cx="100.0" cy="266.9" r="1.85"/>
<circle cx="93.5" cy="277.2" r="1.85"/>
<circle cx="98.6" cy="276.4" r="1.85"/>
<circle cx="103.0" cy="274.2" r="1.85"/>
<circle cx="105.2" cy="224.6" r="1.85"/>
<circle cx="111.0" cy="219.5" r="1.85"/>
<circle cx="112.5" cy="224.6" r="1.85"/>
<circle cx="113.9" cy="232.6" r="1.85"/>
<circle cx="109.6" cy="233.4" r="1.85"/>
<circle cx="106.6" cy="236.3" r="1.85"/>
<circle cx="101.5" cy="234.8" r="1.85"/>
<circle cx="103.0" cy="237.7" r="1.85"/>
<circle cx="98.6" cy="245.0" r="1.85"/>
<circle cx="226.4" cy="228.2" r="1.85"/>
<circle cx="197.3" cy="230.5" r="1.85"/>
<circle cx="191.5" cy="228.0" r="1.85"/>
<circle cx="189.0" cy="232.5" r="1.85"/>
<circle cx="185.5" cy="250.0" r="1.85"/>
<circle cx="183.0" cy="254.5" r="1.85"/>
<circle cx="181.5" cy="237.0" r="1.85"/>
<circle cx="190.5" cy="219.5" r="1.85"/>
<circle cx="186.0" cy="222.0" r="1.85"/>
<circle cx="179.0" cy="225.5" r="1.85"/>
<circle cx="172.0" cy="251.0" r="1.85"/>
<circle cx="176.0" cy="245.0" r="1.85"/>
</g>
<path d="M127.60,286.00 L117.70,238.50 L114.00,236.30 L108.50,236.50 L106.00,240.00 L105.50,252.00 L106.30,266.00 L108.20,277.50 L112.00,285.00 L118.60,288.60 L124.00,290.30 L129.00,291.00 Z" fill="#050505" stroke="none" stroke-width="0.6" />
<path d="M127.60,286.00 L134.50,258.00 L141.10,229.40 L143.50,216.00 L144.50,213.30 L152.00,212.80 L161.70,213.60 L158.40,227.30 L156.20,238.40 L155.10,249.50 L154.00,260.70 L150.60,271.80 L146.20,280.70 L138.40,286.30 L129.50,291.00 Z" fill="#050505" stroke="none" stroke-width="0.6" />
<g fill="#3e47aa" fill-opacity="0.68">
<circle cx="200.6" cy="121.1" r="1.95"/>
<circle cx="182.8" cy="125.4" r="1.95"/>
<circle cx="173.3" cy="143.7" r="1.95"/>
<circle cx="176.5" cy="152.9" r="1.95"/>
<circle cx="179.7" cy="151.4" r="1.95"/>
<circle cx="166.7" cy="159.7" r="1.95"/>
<circle cx="170.2" cy="158.7" r="1.95"/>
<circle cx="164.2" cy="162.7" r="1.95"/>
<circle cx="185.0" cy="164.4" r="1.95"/>
<circle cx="188.4" cy="169.2" r="1.95"/>
<circle cx="190.6" cy="168.9" r="1.95"/>
<circle cx="180.1" cy="170.3" r="1.95"/>
<circle cx="158.4" cy="170.5" r="1.95"/>
<circle cx="213.9" cy="174.9" r="1.95"/>
<circle cx="198.5" cy="178.8" r="1.95"/>
<circle cx="164.7" cy="175.2" r="1.95"/>
<circle cx="168.3" cy="178.1" r="1.95"/>
<circle cx="193.6" cy="185.4" r="1.95"/>
<circle cx="215.6" cy="187.6" r="1.95"/>
<circle cx="201.1" cy="195.5" r="1.95"/>
<circle cx="195.2" cy="195.0" r="1.95"/>
<circle cx="196.2" cy="199.4" r="1.95"/>
<circle cx="193.2" cy="203.1" r="1.95"/>
<circle cx="195.8" cy="203.8" r="1.95"/>
<circle cx="187.3" cy="207.3" r="1.95"/>
<circle cx="193.6" cy="208.4" r="1.95"/>
<circle cx="197.8" cy="211.3" r="1.95"/>
<circle cx="199.8" cy="211.6" r="1.95"/>
<circle cx="179.4" cy="203.4" r="1.95"/>
<circle cx="175.5" cy="202.5" r="1.95"/>
<circle cx="172.9" cy="199.4" r="1.95"/>
<circle cx="159.4" cy="185.4" r="1.95"/>
<circle cx="154.5" cy="188.4" r="1.95"/>
<circle cx="169.6" cy="183.4" r="1.95"/>
<circle cx="166.3" cy="185.4" r="1.95"/>
<circle cx="168.3" cy="185.6" r="1.95"/>
<circle cx="160.5" cy="190.5" r="1.95"/>
<circle cx="183.6" cy="201.5" r="1.95"/>
<circle cx="177.6" cy="206.1" r="1.95"/>
<circle cx="171.5" cy="207.6" r="1.95"/>
<circle cx="162.1" cy="180.6" r="1.95"/>
<circle cx="151.5" cy="190.5" r="1.95"/>
<circle cx="149.7" cy="190.8" r="1.95"/>
<circle cx="154.0" cy="188.2" r="1.95"/>
<circle cx="159.2" cy="185.3" r="1.95"/>
<circle cx="159.9" cy="191.1" r="1.95"/>
<circle cx="162.1" cy="191.5" r="1.95"/>
<circle cx="165.7" cy="186.0" r="1.95"/>
<circle cx="168.7" cy="184.6" r="1.95"/>
<circle cx="169.8" cy="183.5" r="1.95"/>
<circle cx="167.9" cy="178.7" r="1.95"/>
<circle cx="148.2" cy="201.4" r="1.95"/>
<circle cx="167.2" cy="194.4" r="1.95"/>
<circle cx="176.0" cy="191.1" r="1.95"/>
<circle cx="178.1" cy="190.4" r="1.95"/>
<circle cx="174.5" cy="199.9" r="1.95"/>
<circle cx="177.4" cy="203.2" r="1.95"/>
<circle cx="179.6" cy="203.5" r="1.95"/>
<circle cx="170.8" cy="206.1" r="1.95"/>
<circle cx="169.4" cy="208.7" r="1.95"/>
<circle cx="183.3" cy="194.1" r="1.95"/>
<circle cx="147.5" cy="196.0" r="1.95"/>
<circle cx="151.0" cy="194.5" r="1.95"/>
<circle cx="152.9" cy="211.2" r="1.95"/>
<circle cx="161.2" cy="205.3" r="1.95"/>
<circle cx="158.4" cy="205.8" r="1.95"/>
<circle cx="147.7" cy="198.2" r="1.95"/>
<circle cx="156.5" cy="202.8" r="1.95"/>
<circle cx="163.0" cy="198.1" r="1.95"/>
<circle cx="158.1" cy="208.9" r="1.95"/>
<circle cx="157.4" cy="200.2" r="1.95"/>
<circle cx="153.1" cy="199.2" r="1.95"/>
<circle cx="158.2" cy="206.3" r="1.95"/>
<circle cx="160.8" cy="205.7" r="1.95"/>
<circle cx="159.9" cy="207.0" r="1.95"/>
<circle cx="157.9" cy="202.2" r="1.95"/>
<circle cx="159.3" cy="203.2" r="1.95"/>
<circle cx="159.1" cy="204.4" r="1.95"/>
<circle cx="159.6" cy="207.5" r="1.95"/>
<circle cx="152.9" cy="208.9" r="1.95"/>
<circle cx="152.8" cy="209.4" r="1.95"/>
<circle cx="153.0" cy="205.1" r="1.95"/>
<circle cx="159.2" cy="208.4" r="1.95"/>
<circle cx="159.8" cy="208.7" r="1.95"/>
<circle cx="154.6" cy="213.7" r="1.95"/>
<circle cx="155.5" cy="202.8" r="1.95"/>
<circle cx="161.4" cy="205.6" r="1.95"/>
<circle cx="155.9" cy="203.4" r="1.95"/>
<circle cx="158.8" cy="202.7" r="1.95"/>
<circle cx="153.3" cy="206.9" r="1.95"/>
<circle cx="153.3" cy="197.2" r="1.95"/>
<circle cx="153.7" cy="202.2" r="1.95"/>
<circle cx="151.9" cy="208.9" r="1.95"/>
<circle cx="163.1" cy="204.3" r="1.95"/>
<circle cx="157.5" cy="211.0" r="1.95"/>
<circle cx="163.7" cy="204.2" r="1.95"/>
<circle cx="151.4" cy="206.9" r="1.95"/>
<circle cx="159.1" cy="205.3" r="1.95"/>
<circle cx="151.0" cy="198.1" r="1.95"/>
<circle cx="150.5" cy="207.8" r="1.95"/>
<circle cx="163.9" cy="209.4" r="1.95"/>
<circle cx="155.3" cy="206.0" r="1.95"/>
<circle cx="158.0" cy="208.9" r="1.95"/>
<circle cx="158.0" cy="210.5" r="1.95"/>
<circle cx="158.1" cy="203.8" r="1.95"/>
<circle cx="158.1" cy="208.4" r="1.95"/>
<circle cx="161.6" cy="208.4" r="1.95"/>
<circle cx="159.7" cy="212.4" r="1.95"/>
<circle cx="161.6" cy="194.5" r="1.95"/>
<circle cx="157.3" cy="206.2" r="1.95"/>
<circle cx="152.9" cy="207.7" r="1.95"/>
<circle cx="162.6" cy="206.3" r="1.95"/>
<circle cx="158.6" cy="209.3" r="1.95"/>
<circle cx="160.8" cy="213.5" r="1.95"/>
<circle cx="152.7" cy="205.4" r="1.95"/>
<circle cx="151.2" cy="199.4" r="1.95"/>
<circle cx="159.3" cy="204.4" r="1.95"/>
<circle cx="158.0" cy="198.4" r="1.95"/>
<circle cx="156.1" cy="199.1" r="1.95"/>
<circle cx="151.6" cy="205.3" r="1.95"/>
<circle cx="154.6" cy="208.4" r="1.95"/>
<circle cx="155.8" cy="199.0" r="1.95"/>
<circle cx="155.8" cy="204.7" r="1.95"/>
<circle cx="153.5" cy="205.5" r="1.95"/>
<circle cx="149.0" cy="203.3" r="1.95"/>
<circle cx="154.2" cy="207.8" r="1.95"/>
<circle cx="150.0" cy="201.1" r="1.95"/>
<circle cx="154.8" cy="207.5" r="1.95"/>
<circle cx="150.8" cy="210.3" r="1.95"/>
<circle cx="158.5" cy="210.0" r="1.95"/>
<circle cx="154.1" cy="207.0" r="1.95"/>
<circle cx="163.3" cy="208.5" r="1.95"/>
<circle cx="152.3" cy="204.0" r="1.95"/>
<circle cx="150.9" cy="203.7" r="1.95"/>
<circle cx="154.0" cy="194.6" r="1.95"/>
<circle cx="152.7" cy="197.9" r="1.95"/>
<circle cx="159.2" cy="205.4" r="1.95"/>
<circle cx="164.5" cy="207.5" r="1.95"/>
<circle cx="161.4" cy="205.3" r="1.95"/>
<circle cx="152.2" cy="200.8" r="1.95"/>
<circle cx="155.2" cy="202.7" r="1.95"/>
<circle cx="160.0" cy="205.8" r="1.95"/>
<circle cx="158.7" cy="199.1" r="1.95"/>
<circle cx="154.1" cy="207.9" r="1.95"/>
<circle cx="162.8" cy="199.7" r="1.95"/>
<circle cx="152.7" cy="211.7" r="1.95"/>
<circle cx="159.8" cy="208.5" r="1.95"/>
<circle cx="157.8" cy="207.6" r="1.95"/>
<circle cx="158.8" cy="212.2" r="1.95"/>
<circle cx="159.0" cy="202.1" r="1.95"/>
<circle cx="156.5" cy="206.7" r="1.95"/>
<circle cx="154.3" cy="207.9" r="1.95"/>
<circle cx="149.7" cy="210.0" r="1.95"/>
<circle cx="163.2" cy="204.9" r="1.95"/>
<circle cx="158.8" cy="203.4" r="1.95"/>
<circle cx="155.1" cy="207.8" r="1.95"/>
<circle cx="148.4" cy="207.4" r="1.95"/>
<circle cx="149.1" cy="196.8" r="1.95"/>
<circle cx="155.0" cy="206.5" r="1.95"/>
<circle cx="154.8" cy="208.8" r="1.95"/>
<circle cx="154.7" cy="202.6" r="1.95"/>
<circle cx="161.7" cy="205.9" r="1.95"/>
<circle cx="157.7" cy="203.0" r="1.95"/>
<circle cx="156.5" cy="199.6" r="1.95"/>
<circle cx="150.2" cy="206.2" r="1.95"/>
<circle cx="149.0" cy="204.8" r="1.95"/>
<circle cx="156.1" cy="203.8" r="1.95"/>
<circle cx="157.0" cy="208.0" r="1.95"/>
<circle cx="153.6" cy="204.4" r="1.95"/>
<circle cx="152.4" cy="208.5" r="1.95"/>
<circle cx="153.9" cy="202.9" r="1.95"/>
<circle cx="160.4" cy="206.8" r="1.95"/>
<circle cx="150.6" cy="210.8" r="1.95"/>
<circle cx="154.2" cy="213.8" r="1.95"/>
<circle cx="160.4" cy="209.4" r="1.95"/>
<circle cx="148.5" cy="207.1" r="1.95"/>
<circle cx="159.9" cy="207.8" r="1.95"/>
<circle cx="166.7" cy="213.1" r="1.95"/>
<circle cx="148.8" cy="206.3" r="1.95"/>
<circle cx="152.3" cy="195.8" r="1.95"/>
<circle cx="167.6" cy="208.5" r="1.95"/>
<circle cx="146.7" cy="206.2" r="1.95"/>
<circle cx="153.9" cy="206.8" r="1.95"/>
<circle cx="153.4" cy="200.7" r="1.95"/>
<circle cx="161.7" cy="211.6" r="1.95"/>
<circle cx="155.2" cy="206.5" r="1.95"/>
<circle cx="166.5" cy="208.7" r="1.95"/>
<circle cx="160.7" cy="202.1" r="1.95"/>
<circle cx="154.4" cy="199.2" r="1.95"/>
<circle cx="151.3" cy="199.7" r="1.95"/>
<circle cx="157.9" cy="212.9" r="1.95"/>
<circle cx="164.8" cy="201.9" r="1.95"/>
<circle cx="159.3" cy="203.7" r="1.95"/>
<circle cx="151.1" cy="203.9" r="1.95"/>
<circle cx="157.0" cy="206.2" r="1.95"/>
<circle cx="146.8" cy="210.1" r="1.95"/>
<circle cx="160.9" cy="204.8" r="1.95"/>
<circle cx="152.1" cy="202.6" r="1.95"/>
<circle cx="156.3" cy="207.3" r="1.95"/>
<circle cx="157.0" cy="211.8" r="1.95"/>
<circle cx="157.2" cy="198.1" r="1.95"/>
<circle cx="160.5" cy="205.1" r="1.95"/>
<circle cx="159.6" cy="202.3" r="1.95"/>
<circle cx="151.2" cy="205.7" r="1.95"/>
<circle cx="154.2" cy="202.5" r="1.95"/>
<circle cx="162.9" cy="202.9" r="1.95"/>
</g>
<g fill="#ee6b5e">
<circle cx="84.5" cy="171.7" r="1.95"/>
<circle cx="78.5" cy="177.8" r="1.95"/>
<circle cx="95.1" cy="188.9" r="1.95"/>
<circle cx="74.8" cy="192.1" r="1.95"/>
<circle cx="91.0" cy="194.6" r="1.95"/>
<circle cx="106.2" cy="194.7" r="1.95"/>
<circle cx="83.3" cy="199.9" r="1.95"/>
<circle cx="88.4" cy="202.3" r="1.95"/>
<circle cx="65.8" cy="202.3" r="1.95"/>
<circle cx="36.6" cy="207.4" r="1.95"/>
<circle cx="74.8" cy="208.9" r="1.95"/>
<circle cx="92.3" cy="209.6" r="1.95"/>
<circle cx="101.5" cy="211.1" r="1.95"/>
<circle cx="104.5" cy="213.3" r="1.95"/>
</g>
<line x1="83.50" y1="192.50" x2="83.50" y2="199.00" stroke="#1a1a1a" stroke-width="0.55" />
<line x1="90.50" y1="202.30" x2="97.80" y2="202.30" stroke="#1a1a1a" stroke-width="0.55" />
<line x1="63.20" y1="208.70" x2="73.00" y2="208.70" stroke="#1a1a1a" stroke-width="0.55" />
<line x1="91.00" y1="210.60" x2="75.50" y2="216.80" stroke="#1a1a1a" stroke-width="0.55" />
<line x1="171.30" y1="174.00" x2="171.30" y2="182.50" stroke="#1a1a1a" stroke-width="0.55" />
<line x1="153.80" y1="182.70" x2="153.80" y2="190.00" stroke="#1a1a1a" stroke-width="0.55" />
<line x1="185.30" y1="180.80" x2="165.00" y2="198.50" stroke="#1a1a1a" stroke-width="0.55" />
<line x1="177.50" y1="187.60" x2="166.50" y2="195.50" stroke="#1a1a1a" stroke-width="0.55" />
<line x1="180.70" y1="192.60" x2="165.50" y2="200.50" stroke="#1a1a1a" stroke-width="0.55" />
<line x1="183.40" y1="193.40" x2="192.60" y2="193.00" stroke="#1a1a1a" stroke-width="0.55" />
<line x1="197.80" y1="199.80" x2="205.70" y2="203.10" stroke="#1a1a1a" stroke-width="0.55" />
<line x1="196.50" y1="204.40" x2="205.40" y2="208.40" stroke="#1a1a1a" stroke-width="0.55" />
<line x1="199.10" y1="213.00" x2="205.70" y2="215.80" stroke="#1a1a1a" stroke-width="0.55" />
<line x1="177.50" y1="203.80" x2="182.70" y2="209.00" stroke="#1a1a1a" stroke-width="0.55" />
<text x="67.20" y="175.00" font-size="6.4" fill="#1e1e1e" font-style="italic" textLength="12.40" lengthAdjust="spacingAndGlyphs">Selp</text>
<text x="58.50" y="189.60" font-size="6.4" fill="#1e1e1e" font-style="italic" textLength="17.90" lengthAdjust="spacingAndGlyphs">Bpifa2</text>
<text x="77.00" y="191.10" font-size="6.4" fill="#1e1e1e" font-style="italic" textLength="14.30" lengthAdjust="spacingAndGlyphs">Alas2</text>
<text x="110.00" y="196.90" font-size="6.4" fill="#1e1e1e" font-style="italic" textLength="14.20" lengthAdjust="spacingAndGlyphs">Lars2</text>
<text x="55.10" y="199.10" font-size="6.4" fill="#1e1e1e" font-style="italic" textLength="14.30" lengthAdjust="spacingAndGlyphs">Aplnr</text>
<text x="98.30" y="204.20" font-size="6.4" fill="#1e1e1e" font-style="italic" textLength="26.60" lengthAdjust="spacingAndGlyphs">Tmem252</text>
<text x="31.50" y="215.90" font-size="6.4" fill="#1e1e1e" font-style="italic" textLength="11.30" lengthAdjust="spacingAndGlyphs">Ubd</text>
<text x="44.60" y="210.00" font-size="6.4" fill="#1e1e1e" font-style="italic" textLength="18.20" lengthAdjust="spacingAndGlyphs">Col4a1</text>
<text x="65.80" y="221.00" font-size="6.4" fill="#1e1e1e" font-style="italic" textLength="17.50" lengthAdjust="spacingAndGlyphs">Col1a1</text>
<text x="103.70" y="210.00" font-size="6.4" fill="#1e1e1e" font-style="italic" textLength="9.50" lengthAdjust="spacingAndGlyphs">Vwf</text>
<text x="204.20" y="123.60" font-size="6.4" fill="#1e1e1e" font-style="italic" textLength="14.60" lengthAdjust="spacingAndGlyphs">Acta2</text>
<text x="166.00" y="127.30" font-size="6.4" fill="#1e1e1e" font-style="italic" textLength="13.40" lengthAdjust="spacingAndGlyphs">Tagln</text>
<text x="187.40" y="162.40" font-size="6.4" fill="#1e1e1e" font-style="italic" textLength="8.80" lengthAdjust="spacingAndGlyphs">Il1b</text>
<text x="193.90" y="170.70" font-size="6.4" fill="#1e1e1e" font-style="italic" textLength="14.40" lengthAdjust="spacingAndGlyphs">Cxcl2</text>
<text x="166.90" y="173.30" font-size="6.4" fill="#1e1e1e" font-style="italic" textLength="9.90" lengthAdjust="spacingAndGlyphs">Slpi</text>
<text x="216.60" y="176.60" font-size="6.4" fill="#1e1e1e" font-style="italic" textLength="11.40" lengthAdjust="spacingAndGlyphs">Arg1</text>
<text x="184.00" y="179.90" font-size="6.4" fill="#1e1e1e" font-style="italic" textLength="8.60" lengthAdjust="spacingAndGlyphs">Fn1</text>
<text x="143.90" y="181.80" font-size="6.4" fill="#1e1e1e" font-style="italic" textLength="17.10" lengthAdjust="spacingAndGlyphs">Casp3</text>
<text x="218.20" y="189.70" font-size="6.4" fill="#1e1e1e" font-style="italic" textLength="10.50" lengthAdjust="spacingAndGlyphs">Il1m</text>
<text x="172.20" y="187.10" font-size="6.4" fill="#1e1e1e" font-style="italic" textLength="7.20" lengthAdjust="spacingAndGlyphs">Vcl</text>
<text x="179.20" y="192.30" font-size="6.4" fill="#1e1e1e" font-style="italic" textLength="11.40" lengthAdjust="spacingAndGlyphs">Ecm1</text>
<text x="190.60" y="192.30" font-size="6.4" fill="#1e1e1e" font-style="italic" textLength="13.80" lengthAdjust="spacingAndGlyphs">Itga7</text>
<text x="204.40" y="197.60" font-size="6.4" fill="#1e1e1e" font-style="italic" textLength="18.40" lengthAdjust="spacingAndGlyphs">Clec7a</text>
<text x="180.10" y="198.90" font-size="6.4" fill="#1e1e1e" font-style="italic" textLength="13.10" lengthAdjust="spacingAndGlyphs">Plaur</text>
<text x="206.40" y="204.80" font-size="6.4" fill="#1e1e1e" font-style="italic" textLength="12.20" lengthAdjust="spacingAndGlyphs">Ear2</text>
<text x="205.70" y="210.50" font-size="6.4" fill="#1e1e1e" font-style="italic" textLength="18.40" lengthAdjust="spacingAndGlyphs">Dpep2</text>
<text x="205.70" y="217.30" font-size="6.4" fill="#1e1e1e" font-style="italic" textLength="13.80" lengthAdjust="spacingAndGlyphs">Mgl2</text>
<text x="172.90" y="214.70" font-size="6.4" fill="#1e1e1e" font-style="italic" textLength="20.30" lengthAdjust="spacingAndGlyphs">S100a9</text>
<text x="165.00" y="214.70" font-size="6.4" fill="#1e1e1e" font-style="italic" textLength="6.00" lengthAdjust="spacingAndGlyphs">Fy</text>
<text x="166.30" y="221.90" font-size="6.4" fill="#1e1e1e" font-style="italic" textLength="17.10" lengthAdjust="spacingAndGlyphs">Casp4</text>
<circle cx="236.90" cy="131.10" r="2.20" fill="#ee6b5e" stroke="none" stroke-width="0.6" />
<text x="243.00" y="134.00" font-size="8.6"><tspan font-style="italic">PD-1</tspan><tspan baseline-shift="3.2" font-size="5.8">+/+</tspan></text>
<circle cx="236.90" cy="143.80" r="2.20" fill="#6a72cc" stroke="none" stroke-width="0.6" />
<text x="243.00" y="146.60" font-size="8.6"><tspan font-style="italic">PD-1</tspan><tspan baseline-shift="3.2" font-size="5.8">−/−</tspan></text>
<circle cx="236.90" cy="156.50" r="2.20" fill="#555" stroke="none" stroke-width="0.6" />
<text x="243.00" y="159.10" font-size="8.6">NS</text>
<text x="307.00" y="9.00" font-size="13.5" fill="#000" font-weight="bold" stroke="#000" stroke-width="0.35">b</text>
<rect x="367" y="5.8" width="140.70" height="86.70" fill="#fbd8dc"/>
<rect x="507.7" y="5.8" width="140.70" height="86.70" fill="#d3d3fb"/>
<line x1="367.00" y1="5.80" x2="367.00" y2="92.50" stroke="#8a8a8a" stroke-width="0.8" />
<line x1="367.00" y1="92.50" x2="648.40" y2="92.50" stroke="#8a8a8a" stroke-width="0.8" />
<line x1="378.20" y1="92.50" x2="378.20" y2="95.00" stroke="#8a8a8a" stroke-width="0.7" />
<text x="378.20" y="105.40" font-size="7.6" text-anchor="middle" fill="#333">0</text>
<line x1="446.30" y1="92.50" x2="446.30" y2="95.00" stroke="#8a8a8a" stroke-width="0.7" />
<text x="446.30" y="105.40" font-size="7.6" text-anchor="middle" fill="#333">3,000</text>
<line x1="514.40" y1="92.50" x2="514.40" y2="95.00" stroke="#8a8a8a" stroke-width="0.7" />
<text x="514.40" y="105.40" font-size="7.6" text-anchor="middle" fill="#333">6,000</text>
<line x1="582.50" y1="92.50" x2="582.50" y2="95.00" stroke="#8a8a8a" stroke-width="0.7" />
<text x="582.50" y="105.40" font-size="7.6" text-anchor="middle" fill="#333">9,000</text>
<line x1="364.00" y1="29.80" x2="367.00" y2="29.80" stroke="#8a8a8a" stroke-width="0.7" />
<line x1="364.00" y1="69.30" x2="367.00" y2="69.30" stroke="#8a8a8a" stroke-width="0.7" />
<text x="333.00" y="28.10" font-size="8.5" text-anchor="middle" textLength="51.80" lengthAdjust="spacingAndGlyphs">Spleen DEGs</text>
<text x="331.50" y="37.40" font-size="8.5" text-anchor="middle"><tspan font-style="italic">PD-1</tspan><tspan baseline-shift="3.2" font-size="5.5">+/+</tspan></text>
<text x="333.00" y="67.40" font-size="8.5" text-anchor="middle" textLength="51.80" lengthAdjust="spacingAndGlyphs">Spleen DEGs</text>
<text x="331.50" y="76.90" font-size="8.5" text-anchor="middle"><tspan font-style="italic">PD-1</tspan><tspan baseline-shift="3.2" font-size="5.5">−/−</tspan></text>
<line x1="507.70" y1="5.80" x2="507.70" y2="92.50" stroke="#1a1a1a" stroke-width="1.1" />
<path d="M388.40,29.70 C388.40,28.62 387.97,24.70 388.40,23.20 C388.83,21.70 389.90,21.47 391.00,20.70 C392.10,19.93 393.00,19.35 395.00,18.60 C397.00,17.85 400.00,16.13 403.00,16.20 C406.00,16.27 409.33,17.67 413.00,19.00 C416.67,20.33 421.00,23.22 425.00,24.20 C429.00,25.18 432.83,25.18 437.00,24.90 C441.17,24.62 445.33,23.40 450.00,22.50 C454.67,21.60 460.00,20.20 465.00,19.50 C470.00,18.80 475.00,18.57 480.00,18.30 C485.00,18.03 490.83,18.17 495.00,17.90 C499.17,17.63 501.67,16.70 505.00,16.70 C508.33,16.70 511.67,17.27 515.00,17.90 C518.33,18.53 522.17,20.20 525.00,20.50 C527.83,20.80 529.50,20.33 532.00,19.70 C534.50,19.07 537.83,17.47 540.00,16.70 C542.17,15.93 542.50,14.98 545.00,15.10 C547.50,15.22 551.67,16.28 555.00,17.40 C558.33,18.52 560.83,20.35 565.00,21.80 C569.17,23.25 575.83,25.62 580.00,26.10 C584.17,26.58 586.67,25.78 590.00,24.70 C593.33,23.62 596.17,21.23 600.00,19.60 C603.83,17.97 609.67,15.38 613.00,14.90 C616.33,14.42 618.02,15.67 620.00,16.70 C621.98,17.73 624.08,18.93 624.90,21.10 C625.72,23.27 624.90,28.27 624.90,29.70 L624.90,29.70 C624.90,31.13 625.72,36.13 624.90,38.30 C624.08,40.47 621.98,41.67 620.00,42.70 C618.02,43.73 616.33,44.98 613.00,44.50 C609.67,44.02 603.83,41.43 600.00,39.80 C596.17,38.17 593.33,35.78 590.00,34.70 C586.67,33.62 584.17,32.82 580.00,33.30 C575.83,33.78 569.17,36.15 565.00,37.60 C560.83,39.05 558.33,40.88 555.00,42.00 C551.67,43.12 547.50,44.18 545.00,44.30 C542.50,44.42 542.17,43.47 540.00,42.70 C537.83,41.93 534.50,40.33 532.00,39.70 C529.50,39.07 527.83,38.60 525.00,38.90 C522.17,39.20 518.33,40.87 515.00,41.50 C511.67,42.13 508.33,42.70 505.00,42.70 C501.67,42.70 499.17,41.77 495.00,41.50 C490.83,41.23 485.00,41.37 480.00,41.10 C475.00,40.83 470.00,40.60 465.00,39.90 C460.00,39.20 454.67,37.80 450.00,36.90 C445.33,36.00 441.17,34.78 437.00,34.50 C432.83,34.22 429.00,34.22 425.00,35.20 C421.00,36.18 416.67,39.07 413.00,40.40 C409.33,41.73 406.00,43.13 403.00,43.20 C400.00,43.27 397.00,41.55 395.00,40.80 C393.00,40.05 392.10,39.47 391.00,38.70 C389.90,37.93 388.83,37.70 388.40,36.20 C387.97,34.70 388.40,30.78 388.40,29.70 Z" fill="none" stroke="#f0454c" stroke-width="0.7" />
<line x1="388.40" y1="29.70" x2="624.90" y2="29.70" stroke="#5a5a5a" stroke-width="0.9" />
<rect x="456.7" y="24" width="96.00" height="11.4" fill="#f95a5e" stroke="#4a4a4a" stroke-width="0.8"/>
<line x1="506.60" y1="24.00" x2="506.60" y2="35.40" stroke="#333" stroke-width="1.0" />
<text x="627.30" y="32.60" font-size="8.3" textLength="11.00" lengthAdjust="spacingAndGlyphs">NS</text>
<path d="M379.40,69.30 C379.40,68.70 379.13,66.42 379.40,65.70 C379.67,64.98 380.07,65.17 381.00,65.00 C381.93,64.83 383.17,64.58 385.00,64.70 C386.83,64.82 389.50,65.42 392.00,65.70 C394.50,65.98 395.33,66.48 400.00,66.40 C404.67,66.32 412.50,65.48 420.00,65.20 C427.50,64.92 437.50,64.97 445.00,64.70 C452.50,64.43 459.17,64.10 465.00,63.60 C470.83,63.10 475.00,62.42 480.00,61.70 C485.00,60.98 490.00,59.82 495.00,59.30 C500.00,58.78 504.17,58.78 510.00,58.60 C515.83,58.42 525.00,58.23 530.00,58.20 C535.00,58.17 535.83,58.53 540.00,58.40 C544.17,58.27 550.00,57.93 555.00,57.40 C560.00,56.87 565.33,55.85 570.00,55.20 C574.67,54.55 578.83,53.25 583.00,53.50 C587.17,53.75 591.50,55.88 595.00,56.70 C598.50,57.52 601.00,58.65 604.00,58.40 C607.00,58.15 609.67,56.42 613.00,55.20 C616.33,53.98 620.83,51.47 624.00,51.10 C627.17,50.73 630.07,51.88 632.00,53.00 C633.93,54.12 635.00,55.08 635.60,57.80 C636.20,60.52 635.60,67.38 635.60,69.30 L635.60,69.30 C635.60,71.22 636.20,78.08 635.60,80.80 C635.00,83.52 633.93,84.48 632.00,85.60 C630.07,86.72 627.17,87.87 624.00,87.50 C620.83,87.13 616.33,84.62 613.00,83.40 C609.67,82.18 607.00,80.45 604.00,80.20 C601.00,79.95 598.50,81.08 595.00,81.90 C591.50,82.72 587.17,84.85 583.00,85.10 C578.83,85.35 574.67,84.05 570.00,83.40 C565.33,82.75 560.00,81.73 555.00,81.20 C550.00,80.67 544.17,80.33 540.00,80.20 C535.83,80.07 535.00,80.43 530.00,80.40 C525.00,80.37 515.83,80.18 510.00,80.00 C504.17,79.82 500.00,79.82 495.00,79.30 C490.00,78.78 485.00,77.62 480.00,76.90 C475.00,76.18 470.83,75.50 465.00,75.00 C459.17,74.50 452.50,74.17 445.00,73.90 C437.50,73.63 427.50,73.68 420.00,73.40 C412.50,73.12 404.67,72.28 400.00,72.20 C395.33,72.12 394.50,72.62 392.00,72.90 C389.50,73.18 386.83,73.78 385.00,73.90 C383.17,74.02 381.93,73.77 381.00,73.60 C380.07,73.43 379.67,73.62 379.40,72.90 C379.13,72.18 379.40,69.90 379.40,69.30 Z" fill="none" stroke="#4a4af0" stroke-width="0.7" />
<line x1="379.40" y1="69.30" x2="635.60" y2="69.30" stroke="#5a5a5a" stroke-width="0.9" />
<rect x="498.3" y="63.2" width="98.20" height="12.1" fill="#4d4df6" stroke="#3a3a3a" stroke-width="0.8"/>
<line x1="557.20" y1="63.20" x2="557.20" y2="75.30" stroke="#333" stroke-width="1.0" />
<text x="638.10" y="74.60" font-size="10.9" textLength="13.60" lengthAdjust="spacingAndGlyphs">***</text>
<text x="656.80" y="16.50" font-size="8.3" textLength="15.80" lengthAdjust="spacingAndGlyphs">NES</text>
<text x="656.80" y="32.50" font-size="8.3" textLength="17.40" lengthAdjust="spacingAndGlyphs">−0.9</text>
<text x="656.80" y="72.20" font-size="8.3" textLength="20.20" lengthAdjust="spacingAndGlyphs">−1.45</text>
<text x="410.30" y="121.20" font-size="8.5" text-anchor="middle" textLength="44.20" lengthAdjust="spacingAndGlyphs">Enriched in</text>
<text x="380.50" y="130.50" font-size="8.5">skin <tspan font-style="italic">PD-1</tspan><tspan baseline-shift="3.2" font-size="5.5">+/+</tspan> T<tspan baseline-shift="-1.8" font-size="5.2">RM</tspan></text>
<text x="507.40" y="118.40" font-size="8.5" text-anchor="middle" textLength="18.70" lengthAdjust="spacingAndGlyphs">Rank</text>
<text x="599.80" y="119.00" font-size="8.5" text-anchor="middle" textLength="44.40" lengthAdjust="spacingAndGlyphs">Enriched in</text>
<text x="569.60" y="128.40" font-size="8.5">skin <tspan font-style="italic">PD-1</tspan><tspan baseline-shift="3.2" font-size="5.5">−/−</tspan> T<tspan baseline-shift="-1.8" font-size="5.2">RM</tspan></text>
<line x1="460.00" y1="124.20" x2="508.20" y2="124.20" stroke="#ee1111" stroke-width="2.2" />
<line x1="508.20" y1="124.20" x2="556.00" y2="124.20" stroke="#1133ee" stroke-width="2.2" />
<path d="M452.2,124.2 L461.5,119.9 L459.5,124.2 L461.5,128.5 Z" fill="#ee1111" stroke="none" stroke-width="0.6" />
<path d="M563.6,124.2 L554.3,119.9 L556.3,124.2 L554.3,128.5 Z" fill="#1133ee" stroke="none" stroke-width="0.6" />
<text x="306.80" y="149.80" font-size="13.5" fill="#000" font-weight="bold" stroke="#000" stroke-width="0.35">c</text>
<text x="348.20" y="194.70" font-size="8.5" fill="#ec1c24" textLength="38.20" lengthAdjust="spacingAndGlyphs"><tspan font-style="italic">Pdcd1</tspan> WT</text>
<text x="391.70" y="194.50" font-size="8" text-anchor="middle" fill="#333">=</text>
<text x="414.50" y="190.40" font-size="8.3" text-anchor="middle"><tspan font-style="italic">PD-1</tspan><tspan baseline-shift="3.2" font-size="5.5">+/+</tspan></text>
<text x="414.50" y="201.00" font-size="8.3" text-anchor="middle" textLength="37.60" lengthAdjust="spacingAndGlyphs">(14 d.p.i.)</text>
<text x="436.50" y="195.00" font-size="8.5" textLength="27.30" lengthAdjust="spacingAndGlyphs">– naive</text>
<text x="348.20" y="253.00" font-size="8.5" fill="#3535e6" textLength="38.50" lengthAdjust="spacingAndGlyphs"><tspan font-style="italic">Pdcd1</tspan> KO</text>
<text x="391.70" y="252.80" font-size="8" text-anchor="middle" fill="#333">=</text>
<text x="414.20" y="248.20" font-size="8.3" text-anchor="middle"><tspan font-style="italic">PD-1</tspan><tspan baseline-shift="3.2" font-size="5.5">−/−</tspan></text>
<text x="414.50" y="258.80" font-size="8.3" text-anchor="middle" textLength="37.60" lengthAdjust="spacingAndGlyphs">(14 d.p.i.)</text>
<text x="436.50" y="253.30" font-size="8.5" textLength="27.30" lengthAdjust="spacingAndGlyphs">– naive</text>
<defs><clipPath id="cwt"><circle cx="516.20" cy="199.50" r="44.50"/></clipPath></defs>
<circle cx="516.20" cy="199.50" r="44.50" fill="#f9a4a6" stroke="none" stroke-width="0.6" />
<circle cx="516.20" cy="243.70" r="44.50" fill="#8087f9" stroke="none" stroke-width="0.6" />
<circle cx="516.20" cy="243.70" r="44.50" fill="#a45aa6" stroke="none" stroke-width="0.6" clip-path="url(#cwt)"/>
<circle cx="516.20" cy="243.70" r="44.50" fill="none" stroke="#4f3ee6" stroke-width="1.2" />
<circle cx="516.20" cy="199.50" r="44.50" fill="none" stroke="#ec1c24" stroke-width="1.2" />
<text x="516.20" y="153.10" font-size="8.3" text-anchor="middle" fill="#ec1c24">WT</text>
<text x="516.20" y="299.30" font-size="8.3" text-anchor="middle" fill="#3535e6">KO</text>
<text x="516.20" y="173.50" font-size="8.5" text-anchor="middle" fill="#ec1c24">226</text>
<text x="516.20" y="182.70" font-size="8.5" text-anchor="middle" fill="#ec1c24" textLength="30.00" lengthAdjust="spacingAndGlyphs">(27.7%)</text>
<text x="516.20" y="215.60" font-size="8.5" text-anchor="middle" fill="#2a1830">291</text>
<text x="516.20" y="224.80" font-size="8.5" text-anchor="middle" fill="#2a1830" textLength="30.00" lengthAdjust="spacingAndGlyphs">(35.7%)</text>
<text x="516.20" y="257.60" font-size="8.5" text-anchor="middle" fill="#3535e6">296</text>
<text x="516.20" y="267.10" font-size="8.5" text-anchor="middle" fill="#3535e6" textLength="30.00" lengthAdjust="spacingAndGlyphs">(36.4%)</text>
<text x="565.10" y="186.60" font-size="8.7" fill="#ec1c24" textLength="97.60" lengthAdjust="spacingAndGlyphs"><tspan font-style="italic">Pdcd1</tspan> WT<tspan baseline-shift="-1.8" font-size="5.6">specific</tspan> program</text>
<text x="565.10" y="196.50" font-size="5.3" fill="#ec1c24" textLength="32.90" lengthAdjust="spacingAndGlyphs">(226 genes)</text>
<text x="565.10" y="223.80" font-size="8.7" fill="#8b45c0" textLength="65.70" lengthAdjust="spacingAndGlyphs">Shared program</text>
<text x="565.10" y="234.30" font-size="5.3" fill="#8b45c0" textLength="32.90" lengthAdjust="spacingAndGlyphs">(291 genes)</text>
<text x="565.10" y="258.30" font-size="8.7" fill="#3535e6" textLength="96.90" lengthAdjust="spacingAndGlyphs"><tspan font-style="italic">Pdcd1</tspan> KO<tspan baseline-shift="-1.8" font-size="5.6">specific</tspan> program</text>
<text x="565.10" y="267.50" font-size="5.3" fill="#3535e6" textLength="32.90" lengthAdjust="spacingAndGlyphs">(296 genes)</text>
<text x="-0.60" y="346.60" font-size="13.5" fill="#000" font-weight="bold" stroke="#000" stroke-width="0.35">d</text>
<text x="0.00" y="0.00" font-size="8.6" text-anchor="middle" textLength="136.70" lengthAdjust="spacingAndGlyphs" transform="translate(8.9,436.8) rotate(-90)">Change in GSVA score from day 0</text>
<text x="56.00" y="348.90" font-size="8.6" textLength="150.70" lengthAdjust="spacingAndGlyphs"><tspan font-style="italic">Pdcd1</tspan> WT<tspan baseline-shift="-1.8" font-size="5.8">specific</tspan> (% change days 5–30)</text>
<text x="131.40" y="358.30" font-size="8.6" text-anchor="middle">153%</text>
<line x1="36.40" y1="376.60" x2="36.40" y2="496.80" stroke="#8a8a8a" stroke-width="1.0" />
<line x1="35.90" y1="496.80" x2="226.00" y2="496.80" stroke="#8a8a8a" stroke-width="1.0" />
<line x1="33.40" y1="400.00" x2="36.40" y2="400.00" stroke="#8a8a8a" stroke-width="0.9" />
<text x="29.10" y="402.90" font-size="8.2" text-anchor="end" fill="#333">0.4</text>
<line x1="33.40" y1="436.70" x2="36.40" y2="436.70" stroke="#8a8a8a" stroke-width="0.9" />
<text x="29.10" y="439.60" font-size="8.2" text-anchor="end" fill="#333">0.2</text>
<line x1="33.40" y1="473.40" x2="36.40" y2="473.40" stroke="#8a8a8a" stroke-width="0.9" />
<text x="29.10" y="476.30" font-size="8.2" text-anchor="end" fill="#333">0</text>
<line x1="45.20" y1="496.80" x2="45.20" y2="500.00" stroke="#8a8a8a" stroke-width="0.9" />
<text x="0.00" y="0.00" font-size="9.3" text-anchor="end" fill="#222" transform="translate(48.50,503.6) rotate(-90)">T<tspan baseline-shift="-1.9" font-size="6.2">CM</tspan></text>
<line x1="60.40" y1="496.80" x2="60.40" y2="500.00" stroke="#8a8a8a" stroke-width="0.9" />
<text x="0.00" y="0.00" font-size="9.3" text-anchor="end" fill="#222" transform="translate(63.70,503.6) rotate(-90)">T<tspan baseline-shift="-1.9" font-size="6.2">EM</tspan></text>
<line x1="76.20" y1="496.80" x2="76.20" y2="500.00" stroke="#8a8a8a" stroke-width="0.9" />
<text x="0.00" y="0.00" font-size="9.3" text-anchor="end" fill="#222" transform="translate(79.50,503.6) rotate(-90)">T<tspan baseline-shift="-1.9" font-size="6.2">N</tspan></text>
<line x1="84.00" y1="496.80" x2="84.00" y2="500.00" stroke="#8a8a8a" stroke-width="0.9" />
<text x="0.00" y="0.00" font-size="9.3" text-anchor="end" fill="#222" transform="translate(87.30,503.6) rotate(-90)">D 5</text>
<line x1="91.90" y1="496.80" x2="91.90" y2="500.00" stroke="#8a8a8a" stroke-width="0.9" />
<text x="0.00" y="0.00" font-size="9.3" text-anchor="end" fill="#222" transform="translate(95.20,503.6) rotate(-90)">D 10</text>
<line x1="99.80" y1="496.80" x2="99.80" y2="500.00" stroke="#8a8a8a" stroke-width="0.9" />
<text x="0.00" y="0.00" font-size="9.3" text-anchor="end" fill="#222" transform="translate(103.10,503.6) rotate(-90)">D 15</text>
<line x1="107.70" y1="496.80" x2="107.70" y2="500.00" stroke="#8a8a8a" stroke-width="0.9" />
<text x="0.00" y="0.00" font-size="9.3" text-anchor="end" fill="#222" transform="translate(111.00,503.6) rotate(-90)">D 20</text>
<line x1="115.60" y1="496.80" x2="115.60" y2="500.00" stroke="#8a8a8a" stroke-width="0.9" />
<text x="0.00" y="0.00" font-size="9.3" text-anchor="end" fill="#222" transform="translate(118.90,503.6) rotate(-90)">D 25</text>
<line x1="123.60" y1="496.80" x2="123.60" y2="500.00" stroke="#8a8a8a" stroke-width="0.9" />
<text x="0.00" y="0.00" font-size="9.3" text-anchor="end" fill="#222" transform="translate(126.90,503.6) rotate(-90)">D 30</text>
<line x1="147.20" y1="496.80" x2="147.20" y2="500.00" stroke="#8a8a8a" stroke-width="0.9" />
<text x="0.00" y="0.00" font-size="9.3" text-anchor="end" fill="#222" transform="translate(150.50,503.6) rotate(-90)">D 45</text>
<line x1="170.90" y1="496.80" x2="170.90" y2="500.00" stroke="#8a8a8a" stroke-width="0.9" />
<text x="0.00" y="0.00" font-size="9.3" text-anchor="end" fill="#222" transform="translate(174.20,503.6) rotate(-90)">D 60</text>
<line x1="218.10" y1="496.80" x2="218.10" y2="500.00" stroke="#8a8a8a" stroke-width="0.9" />
<text x="0.00" y="0.00" font-size="9.3" text-anchor="end" fill="#222" transform="translate(221.40,503.6) rotate(-90)">D 90</text>
<path d="M85.10,403.90 L96.90,400.40 L110.00,394.30 L122.70,382.40 L122.70,399.10 L110.00,402.60 L96.90,410.90 L85.10,422.70 Z" fill="#d3d3d3" stroke="none" stroke-width="0.6" />
<line x1="85.10" y1="413.50" x2="122.70" y2="391.20" stroke="#f42020" stroke-width="1.6" />
<rect x="80.5" y="432.6" width="49.10" height="32.70" rx="4.8" fill="none" stroke="#f84a4a" stroke-width="1.0"/>
<path d="M76.20,473.40 L84.00,457.60 L91.90,461.30 L99.80,460.30 L107.70,450.60 L115.60,442.00 L123.60,437.80 L147.20,436.60 L170.90,434.30 L218.10,435.40" fill="none" stroke="#f42020" stroke-width="0.9" />
<circle cx="45.20" cy="477.80" r="3.55" fill="#f00000" stroke="#111" stroke-width="0.9" />
<circle cx="60.40" cy="474.70" r="3.55" fill="#f00000" stroke="#111" stroke-width="0.9" />
<circle cx="76.20" cy="473.40" r="3.55" fill="#f00000" stroke="#111" stroke-width="0.9" />
<circle cx="84.00" cy="457.60" r="3.55" fill="#f00000" stroke="#111" stroke-width="0.9" />
<circle cx="91.90" cy="461.30" r="3.55" fill="#f00000" stroke="#111" stroke-width="0.9" />
<circle cx="99.80" cy="460.30" r="3.55" fill="#f00000" stroke="#111" stroke-width="0.9" />
<circle cx="107.70" cy="450.60" r="3.55" fill="#f00000" stroke="#111" stroke-width="0.9" />
<circle cx="115.60" cy="442.00" r="3.55" fill="#f00000" stroke="#111" stroke-width="0.9" />
<circle cx="123.60" cy="437.80" r="3.55" fill="#f00000" stroke="#111" stroke-width="0.9" />
<circle cx="147.20" cy="436.60" r="3.55" fill="#f00000" stroke="#111" stroke-width="0.9" />
<circle cx="170.90" cy="434.30" r="3.55" fill="#f00000" stroke="#111" stroke-width="0.9" />
<circle cx="218.10" cy="435.40" r="3.55" fill="#f00000" stroke="#111" stroke-width="0.9" />
<circle cx="84.00" cy="407.40" r="3.55" fill="#f00000" stroke="#111" stroke-width="0.9" />
<circle cx="91.90" cy="411.20" r="3.55" fill="#f00000" stroke="#111" stroke-width="0.9" />
<circle cx="99.80" cy="410.50" r="3.55" fill="#f00000" stroke="#111" stroke-width="0.9" />
<circle cx="107.70" cy="400.60" r="3.55" fill="#f00000" stroke="#111" stroke-width="0.9" />
<circle cx="115.60" cy="391.60" r="3.55" fill="#f00000" stroke="#111" stroke-width="0.9" />
<circle cx="123.60" cy="387.70" r="3.55" fill="#f00000" stroke="#111" stroke-width="0.9" />
<text x="286.60" y="348.90" font-size="8.6" textLength="149.60" lengthAdjust="spacingAndGlyphs"><tspan font-style="italic">Pdcd1</tspan> KO<tspan baseline-shift="-1.8" font-size="5.8">specific</tspan> (% change days 5–30)</text>
<text x="361.20" y="358.30" font-size="8.6" text-anchor="middle">3%</text>
<line x1="266.20" y1="376.60" x2="266.20" y2="496.80" stroke="#8a8a8a" stroke-width="1.0" />
<line x1="265.70" y1="496.80" x2="456.00" y2="496.80" stroke="#8a8a8a" stroke-width="1.0" />
<line x1="263.20" y1="400.00" x2="266.20" y2="400.00" stroke="#8a8a8a" stroke-width="0.9" />
<text x="258.90" y="402.90" font-size="8.2" text-anchor="end" fill="#333">0.4</text>
<line x1="263.20" y1="436.70" x2="266.20" y2="436.70" stroke="#8a8a8a" stroke-width="0.9" />
<text x="258.90" y="439.60" font-size="8.2" text-anchor="end" fill="#333">0.2</text>
<line x1="263.20" y1="473.40" x2="266.20" y2="473.40" stroke="#8a8a8a" stroke-width="0.9" />
<text x="258.90" y="476.30" font-size="8.2" text-anchor="end" fill="#333">0</text>
<line x1="275.00" y1="496.80" x2="275.00" y2="500.00" stroke="#8a8a8a" stroke-width="0.9" />
<text x="0.00" y="0.00" font-size="9.3" text-anchor="end" fill="#222" transform="translate(278.30,503.6) rotate(-90)">T<tspan baseline-shift="-1.9" font-size="6.2">CM</tspan></text>
<line x1="290.20" y1="496.80" x2="290.20" y2="500.00" stroke="#8a8a8a" stroke-width="0.9" />
<text x="0.00" y="0.00" font-size="9.3" text-anchor="end" fill="#222" transform="translate(293.50,503.6) rotate(-90)">T<tspan baseline-shift="-1.9" font-size="6.2">EM</tspan></text>
<line x1="306.00" y1="496.80" x2="306.00" y2="500.00" stroke="#8a8a8a" stroke-width="0.9" />
<text x="0.00" y="0.00" font-size="9.3" text-anchor="end" fill="#222" transform="translate(309.30,503.6) rotate(-90)">T<tspan baseline-shift="-1.9" font-size="6.2">N</tspan></text>
<line x1="313.80" y1="496.80" x2="313.80" y2="500.00" stroke="#8a8a8a" stroke-width="0.9" />
<text x="0.00" y="0.00" font-size="9.3" text-anchor="end" fill="#222" transform="translate(317.10,503.6) rotate(-90)">D 5</text>
<line x1="321.70" y1="496.80" x2="321.70" y2="500.00" stroke="#8a8a8a" stroke-width="0.9" />
<text x="0.00" y="0.00" font-size="9.3" text-anchor="end" fill="#222" transform="translate(325.00,503.6) rotate(-90)">D 10</text>
<line x1="329.60" y1="496.80" x2="329.60" y2="500.00" stroke="#8a8a8a" stroke-width="0.9" />
<text x="0.00" y="0.00" font-size="9.3" text-anchor="end" fill="#222" transform="translate(332.90,503.6) rotate(-90)">D 15</text>
<line x1="337.50" y1="496.80" x2="337.50" y2="500.00" stroke="#8a8a8a" stroke-width="0.9" />
<text x="0.00" y="0.00" font-size="9.3" text-anchor="end" fill="#222" transform="translate(340.80,503.6) rotate(-90)">D 20</text>
<line x1="345.40" y1="496.80" x2="345.40" y2="500.00" stroke="#8a8a8a" stroke-width="0.9" />
<text x="0.00" y="0.00" font-size="9.3" text-anchor="end" fill="#222" transform="translate(348.70,503.6) rotate(-90)">D 25</text>
<line x1="353.40" y1="496.80" x2="353.40" y2="500.00" stroke="#8a8a8a" stroke-width="0.9" />
<text x="0.00" y="0.00" font-size="9.3" text-anchor="end" fill="#222" transform="translate(356.70,503.6) rotate(-90)">D 30</text>
<line x1="377.00" y1="496.80" x2="377.00" y2="500.00" stroke="#8a8a8a" stroke-width="0.9" />
<text x="0.00" y="0.00" font-size="9.3" text-anchor="end" fill="#222" transform="translate(380.30,503.6) rotate(-90)">D 45</text>
<line x1="400.70" y1="496.80" x2="400.70" y2="500.00" stroke="#8a8a8a" stroke-width="0.9" />
<text x="0.00" y="0.00" font-size="9.3" text-anchor="end" fill="#222" transform="translate(404.00,503.6) rotate(-90)">D 60</text>
<line x1="447.90" y1="496.80" x2="447.90" y2="500.00" stroke="#8a8a8a" stroke-width="0.9" />
<text x="0.00" y="0.00" font-size="9.3" text-anchor="end" fill="#222" transform="translate(451.20,503.6) rotate(-90)">D 90</text>
<path d="M311.30,393.40 L331.00,398.50 L350.80,392.20 L350.80,413.20 L331.00,407.50 L311.30,414.40 Z" fill="#d3d3d3" stroke="none" stroke-width="0.6" />
<line x1="313.50" y1="403.80" x2="350.80" y2="402.80" stroke="#1a1af0" stroke-width="1.6" />
<rect x="308.7" y="417.4" width="49.80" height="32.00" rx="4.8" fill="none" stroke="#3d6af0" stroke-width="1.0"/>
<path d="M306.00,473.30 L313.80,430.30 L321.70,432.60 L329.60,441.30 L337.50,430.30 L345.40,427.00 L353.40,433.80 L377.00,431.20 L400.70,429.70 L447.90,429.70" fill="none" stroke="#1a1af0" stroke-width="0.9" />
<circle cx="275.00" cy="459.50" r="3.55" fill="#0000ee" stroke="#111" stroke-width="0.9" />
<circle cx="290.20" cy="456.90" r="3.55" fill="#0000ee" stroke="#111" stroke-width="0.9" />
<circle cx="306.00" cy="473.30" r="3.55" fill="#0000ee" stroke="#111" stroke-width="0.9" />
<circle cx="313.80" cy="430.30" r="3.55" fill="#0000ee" stroke="#111" stroke-width="0.9" />
<circle cx="321.70" cy="432.60" r="3.55" fill="#0000ee" stroke="#111" stroke-width="0.9" />
<circle cx="329.60" cy="441.30" r="3.55" fill="#0000ee" stroke="#111" stroke-width="0.9" />
<circle cx="337.50" cy="430.30" r="3.55" fill="#0000ee" stroke="#111" stroke-width="0.9" />
<circle cx="345.40" cy="427.00" r="3.55" fill="#0000ee" stroke="#111" stroke-width="0.9" />
<circle cx="353.40" cy="433.80" r="3.55" fill="#0000ee" stroke="#111" stroke-width="0.9" />
<circle cx="377.00" cy="431.20" r="3.55" fill="#0000ee" stroke="#111" stroke-width="0.9" />
<circle cx="400.70" cy="429.70" r="3.55" fill="#0000ee" stroke="#111" stroke-width="0.9" />
<circle cx="447.90" cy="429.70" r="3.55" fill="#0000ee" stroke="#111" stroke-width="0.9" />
<circle cx="313.80" cy="400.80" r="3.55" fill="#0000ee" stroke="#111" stroke-width="0.9" />
<circle cx="321.70" cy="403.90" r="3.55" fill="#0000ee" stroke="#111" stroke-width="0.9" />
<circle cx="329.60" cy="412.10" r="3.55" fill="#0000ee" stroke="#111" stroke-width="0.9" />
<circle cx="337.50" cy="400.80" r="3.55" fill="#0000ee" stroke="#111" stroke-width="0.9" />
<circle cx="345.40" cy="398.00" r="3.55" fill="#0000ee" stroke="#111" stroke-width="0.9" />
<circle cx="353.40" cy="405.00" r="3.55" fill="#0000ee" stroke="#111" stroke-width="0.9" />
<text x="530.10" y="348.90" font-size="8.6" textLength="118.80" lengthAdjust="spacingAndGlyphs">Shared (% change days 5–30)</text>
<text x="589.70" y="358.30" font-size="8.6" text-anchor="middle">25%</text>
<line x1="494.40" y1="376.60" x2="494.40" y2="496.80" stroke="#8a8a8a" stroke-width="1.0" />
<line x1="493.90" y1="496.80" x2="685.00" y2="496.80" stroke="#8a8a8a" stroke-width="1.0" />
<line x1="491.40" y1="400.00" x2="494.40" y2="400.00" stroke="#8a8a8a" stroke-width="0.9" />
<text x="487.10" y="402.90" font-size="8.2" text-anchor="end" fill="#333">0.4</text>
<line x1="491.40" y1="436.70" x2="494.40" y2="436.70" stroke="#8a8a8a" stroke-width="0.9" />
<text x="487.10" y="439.60" font-size="8.2" text-anchor="end" fill="#333">0.2</text>
<line x1="491.40" y1="473.40" x2="494.40" y2="473.40" stroke="#8a8a8a" stroke-width="0.9" />
<text x="487.10" y="476.30" font-size="8.2" text-anchor="end" fill="#333">0</text>
<line x1="503.20" y1="496.80" x2="503.20" y2="500.00" stroke="#8a8a8a" stroke-width="0.9" />
<text x="0.00" y="0.00" font-size="9.3" text-anchor="end" fill="#222" transform="translate(506.50,503.6) rotate(-90)">T<tspan baseline-shift="-1.9" font-size="6.2">CM</tspan></text>
<line x1="518.40" y1="496.80" x2="518.40" y2="500.00" stroke="#8a8a8a" stroke-width="0.9" />
<text x="0.00" y="0.00" font-size="9.3" text-anchor="end" fill="#222" transform="translate(521.70,503.6) rotate(-90)">T<tspan baseline-shift="-1.9" font-size="6.2">EM</tspan></text>
<line x1="534.20" y1="496.80" x2="534.20" y2="500.00" stroke="#8a8a8a" stroke-width="0.9" />
<text x="0.00" y="0.00" font-size="9.3" text-anchor="end" fill="#222" transform="translate(537.50,503.6) rotate(-90)">T<tspan baseline-shift="-1.9" font-size="6.2">N</tspan></text>
<line x1="542.00" y1="496.80" x2="542.00" y2="500.00" stroke="#8a8a8a" stroke-width="0.9" />
<text x="0.00" y="0.00" font-size="9.3" text-anchor="end" fill="#222" transform="translate(545.30,503.6) rotate(-90)">D 5</text>
<line x1="549.90" y1="496.80" x2="549.90" y2="500.00" stroke="#8a8a8a" stroke-width="0.9" />
<text x="0.00" y="0.00" font-size="9.3" text-anchor="end" fill="#222" transform="translate(553.20,503.6) rotate(-90)">D 10</text>
<line x1="557.80" y1="496.80" x2="557.80" y2="500.00" stroke="#8a8a8a" stroke-width="0.9" />
<text x="0.00" y="0.00" font-size="9.3" text-anchor="end" fill="#222" transform="translate(561.10,503.6) rotate(-90)">D 15</text>
<line x1="565.70" y1="496.80" x2="565.70" y2="500.00" stroke="#8a8a8a" stroke-width="0.9" />
<text x="0.00" y="0.00" font-size="9.3" text-anchor="end" fill="#222" transform="translate(569.00,503.6) rotate(-90)">D 20</text>
<line x1="573.60" y1="496.80" x2="573.60" y2="500.00" stroke="#8a8a8a" stroke-width="0.9" />
<text x="0.00" y="0.00" font-size="9.3" text-anchor="end" fill="#222" transform="translate(576.90,503.6) rotate(-90)">D 25</text>
<line x1="581.60" y1="496.80" x2="581.60" y2="500.00" stroke="#8a8a8a" stroke-width="0.9" />
<text x="0.00" y="0.00" font-size="9.3" text-anchor="end" fill="#222" transform="translate(584.90,503.6) rotate(-90)">D 30</text>
<line x1="605.20" y1="496.80" x2="605.20" y2="500.00" stroke="#8a8a8a" stroke-width="0.9" />
<text x="0.00" y="0.00" font-size="9.3" text-anchor="end" fill="#222" transform="translate(608.50,503.6) rotate(-90)">D 45</text>
<line x1="628.90" y1="496.80" x2="628.90" y2="500.00" stroke="#8a8a8a" stroke-width="0.9" />
<text x="0.00" y="0.00" font-size="9.3" text-anchor="end" fill="#222" transform="translate(632.20,503.6) rotate(-90)">D 60</text>
<line x1="676.10" y1="496.80" x2="676.10" y2="500.00" stroke="#8a8a8a" stroke-width="0.9" />
<text x="0.00" y="0.00" font-size="9.3" text-anchor="end" fill="#222" transform="translate(679.40,503.6) rotate(-90)">D 90</text>
<path d="M543.10,376.40 L562.00,369.50 L582.80,363.50 L582.80,374.00 L562.00,380.50 L543.10,388.00 Z" fill="#d3d3d3" stroke="none" stroke-width="0.6" />
<line x1="543.10" y1="383.50" x2="582.80" y2="370.00" stroke="#9d36ee" stroke-width="1.6" />
<rect x="536.8" y="392.2" width="50.20" height="32.10" rx="4.8" fill="none" stroke="#8c4cc8" stroke-width="1.0"/>
<path d="M534.20,473.30 L542.00,417.90 L549.90,410.90 L557.80,409.80 L565.70,402.80 L573.60,402.10 L581.60,406.00 L605.20,405.10 L628.90,406.70 L676.10,407.80" fill="none" stroke="#9d36ee" stroke-width="0.9" />
<circle cx="503.20" cy="451.80" r="3.55" fill="#9b1fea" stroke="#111" stroke-width="0.9" />
<circle cx="518.40" cy="446.40" r="3.55" fill="#9b1fea" stroke="#111" stroke-width="0.9" />
<circle cx="534.20" cy="473.30" r="3.55" fill="#9b1fea" stroke="#111" stroke-width="0.9" />
<circle cx="542.00" cy="417.90" r="3.55" fill="#9b1fea" stroke="#111" stroke-width="0.9" />
<circle cx="549.90" cy="410.90" r="3.55" fill="#9b1fea" stroke="#111" stroke-width="0.9" />
<circle cx="557.80" cy="409.80" r="3.55" fill="#9b1fea" stroke="#111" stroke-width="0.9" />
<circle cx="565.70" cy="402.80" r="3.55" fill="#9b1fea" stroke="#111" stroke-width="0.9" />
<circle cx="573.60" cy="402.10" r="3.55" fill="#9b1fea" stroke="#111" stroke-width="0.9" />
<circle cx="581.60" cy="406.00" r="3.55" fill="#9b1fea" stroke="#111" stroke-width="0.9" />
<circle cx="605.20" cy="405.10" r="3.55" fill="#9b1fea" stroke="#111" stroke-width="0.9" />
<circle cx="628.90" cy="406.70" r="3.55" fill="#9b1fea" stroke="#111" stroke-width="0.9" />
<circle cx="676.10" cy="407.80" r="3.55" fill="#9b1fea" stroke="#111" stroke-width="0.9" />
<circle cx="542.00" cy="386.40" r="3.55" fill="#9b1fea" stroke="#111" stroke-width="0.9" />
<circle cx="549.90" cy="379.40" r="3.55" fill="#9b1fea" stroke="#111" stroke-width="0.9" />
<circle cx="557.80" cy="378.00" r="3.55" fill="#9b1fea" stroke="#111" stroke-width="0.9" />
<circle cx="565.70" cy="371.00" r="3.55" fill="#9b1fea" stroke="#111" stroke-width="0.9" />
<circle cx="573.60" cy="370.50" r="3.55" fill="#9b1fea" stroke="#111" stroke-width="0.9" />
<circle cx="581.60" cy="374.50" r="3.55" fill="#9b1fea" stroke="#111" stroke-width="0.9" />
<text x="-0.60" y="546.20" font-size="13.5" fill="#000" font-weight="bold" stroke="#000" stroke-width="0.35">e</text>
<text x="198.30" y="551.90" font-size="8.6" text-anchor="middle" textLength="142.50" lengthAdjust="spacingAndGlyphs">Shared program genes that overlap</text>
<text x="198.10" y="561.50" font-size="8.6" text-anchor="middle" textLength="118.80" lengthAdjust="spacingAndGlyphs">T<tspan baseline-shift="-1.8" font-size="5.4">RM</tspan> core signature transcripts</text>
<rect x="36.7" y="568.0" width="323.9" height="119.7" fill="none" stroke="#9a6ccf" stroke-width="0.9"/>
<text x="63.90" y="579.00" font-size="8.6" text-anchor="middle" fill="#7462a8" font-style="italic">Gzmk</text>
<text x="117.50" y="579.00" font-size="8.6" text-anchor="middle" fill="#7462a8" font-style="italic">Ccl5</text>
<text x="168.60" y="579.00" font-size="8.6" text-anchor="middle" fill="#7462a8" font-style="italic">Cxcr6</text>
<text x="221.30" y="579.00" font-size="8.6" text-anchor="middle" fill="#1a1a1a" font-style="italic">Icos</text>
<text x="273.90" y="579.00" font-size="8.6" text-anchor="middle" fill="#1a1a1a" font-style="italic">Cdh1</text>
<text x="328.50" y="579.00" font-size="8.6" text-anchor="middle" fill="#7462a8" font-style="italic">Irf4</text>
<text x="63.90" y="592.50" font-size="8.6" text-anchor="middle" fill="#7462a8" font-style="italic">Ifng</text>
<text x="117.50" y="592.50" font-size="8.6" text-anchor="middle" fill="#1a1a1a" font-style="italic">Tigit</text>
<text x="168.60" y="592.50" font-size="8.6" text-anchor="middle" fill="#7462a8" font-style="italic">Ccr7</text>
<text x="221.30" y="592.50" font-size="8.6" text-anchor="middle" fill="#7462a8" font-style="italic">Id2</text>
<text x="273.90" y="592.50" font-size="8.6" text-anchor="middle" fill="#7462a8" font-style="italic">Pik3ap1</text>
<text x="328.50" y="592.50" font-size="8.6" text-anchor="middle" fill="#7462a8" font-style="italic">Atic</text>
<text x="63.90" y="604.30" font-size="8.6" text-anchor="middle" fill="#1a1a1a" font-style="italic">Itga1</text>
<text x="117.50" y="604.30" font-size="8.6" text-anchor="middle" fill="#7462a8" font-style="italic">Il2ra</text>
<text x="168.60" y="604.30" font-size="8.6" text-anchor="middle" fill="#7462a8" font-style="italic">Rapgef4</text>
<text x="221.30" y="604.30" font-size="8.6" text-anchor="middle" fill="#ee1c24" font-style="italic">Cish</text>
<text x="273.90" y="604.30" font-size="8.6" text-anchor="middle" fill="#7462a8" font-style="italic">Dapl1</text>
<text x="328.50" y="604.30" font-size="8.6" text-anchor="middle" fill="#7462a8" font-style="italic">Osbpl3</text>
<text x="63.90" y="617.50" font-size="8.6" text-anchor="middle" fill="#1a1a1a" font-style="italic">Ctla4</text>
<text x="117.50" y="617.50" font-size="8.6" text-anchor="middle" fill="#1a1a1a" font-style="italic">Rgs2</text>
<text x="168.60" y="617.50" font-size="8.6" text-anchor="middle" fill="#7462a8" font-style="italic">Runx2</text>
<text x="221.30" y="617.50" font-size="8.6" text-anchor="middle" fill="#7462a8" font-style="italic">Il18rap</text>
<text x="273.90" y="617.50" font-size="8.6" text-anchor="middle" fill="#1a1a1a" font-style="italic">Litaf</text>
<text x="328.50" y="617.50" font-size="8.6" text-anchor="middle" fill="#7462a8" font-style="italic">Itgax</text>
<text x="63.90" y="630.70" font-size="8.6" text-anchor="middle" fill="#ee1c24" font-style="italic">Xkrx</text>
<text x="117.50" y="630.70" font-size="8.6" text-anchor="middle" fill="#7462a8" font-style="italic">Cxcr3</text>
<text x="168.60" y="630.70" font-size="8.6" text-anchor="middle" fill="#ee1c24" font-style="italic">Cdkn1a</text>
<text x="221.30" y="630.70" font-size="8.6" text-anchor="middle" fill="#7462a8" font-style="italic">Bhlhe40</text>
<text x="273.90" y="630.70" font-size="8.6" text-anchor="middle" fill="#7462a8" font-style="italic">Ctsw</text>
<text x="328.50" y="630.70" font-size="8.6" text-anchor="middle" fill="#7462a8" font-style="italic">Dennd4a</text>
<text x="63.90" y="644.30" font-size="8.6" text-anchor="middle" fill="#7462a8" font-style="italic">Ccr2</text>
<text x="117.50" y="644.30" font-size="8.6" text-anchor="middle" fill="#1a1a1a" font-style="italic">Cd244</text>
<text x="168.60" y="644.30" font-size="8.6" text-anchor="middle" fill="#ee1c24" font-style="italic">Crem</text>
<text x="221.30" y="644.30" font-size="8.6" text-anchor="middle" fill="#7462a8" font-style="italic">Slamf7</text>
<text x="273.90" y="644.30" font-size="8.6" text-anchor="middle" fill="#7462a8" font-style="italic">Treml2</text>
<text x="328.50" y="644.30" font-size="8.6" text-anchor="middle" fill="#7462a8" font-style="italic">Nfil3</text>
<text x="63.90" y="656.00" font-size="8.6" text-anchor="middle" fill="#ee1c24" font-style="italic">Fgl2</text>
<text x="117.50" y="656.00" font-size="8.6" text-anchor="middle" fill="#ee1c24" font-style="italic">Fosl2</text>
<text x="168.60" y="656.00" font-size="8.6" text-anchor="middle" fill="#1a1a1a" font-style="italic">Rgs1</text>
<text x="221.30" y="656.00" font-size="8.6" text-anchor="middle" fill="#7462a8" font-style="italic">Ifitm1</text>
<text x="273.90" y="656.00" font-size="8.6" text-anchor="middle" fill="#7462a8" font-style="italic">Sell</text>
<text x="328.50" y="656.00" font-size="8.6" text-anchor="middle" fill="#7462a8" font-style="italic">Snord118</text>
<text x="63.90" y="669.20" font-size="8.6" text-anchor="middle" fill="#7462a8" font-style="italic">Gzmb</text>
<text x="117.50" y="669.20" font-size="8.6" text-anchor="middle" fill="#7462a8" font-style="italic">Atp2b4</text>
<text x="168.60" y="669.20" font-size="8.6" text-anchor="middle" fill="#ee1c24" font-style="italic">Nr4a3</text>
<text x="221.30" y="669.20" font-size="8.6" text-anchor="middle" fill="#7462a8" font-style="italic">Plek</text>
<text x="273.90" y="669.20" font-size="8.6" text-anchor="middle" fill="#7462a8" font-style="italic">Tcf7</text>
<text x="328.50" y="669.20" font-size="8.6" text-anchor="middle" fill="#7462a8" font-style="italic">Il2rb</text>
<text x="63.90" y="682.30" font-size="8.6" text-anchor="middle" fill="#7462a8" font-style="italic">Gzma</text>
<text x="117.50" y="682.30" font-size="8.6" text-anchor="middle" fill="#7462a8" font-style="italic">Tnfaip3</text>
<text x="168.60" y="682.30" font-size="8.6" text-anchor="middle" fill="#1a1a1a" font-style="italic">Nr4a1</text>
<text x="221.30" y="682.30" font-size="8.6" text-anchor="middle" fill="#7462a8" font-style="italic">S100a6</text>
<text x="273.90" y="682.30" font-size="8.6" text-anchor="middle" fill="#7462a8" font-style="italic">Icam2</text>
<text x="425.30" y="545.70" font-size="13.5" fill="#000" font-weight="bold" stroke="#000" stroke-width="0.35">g</text>
<line x1="445.70" y1="555.80" x2="445.70" y2="660.00" stroke="#555" stroke-width="0.8" />
<line x1="445.70" y1="660.00" x2="550.10" y2="660.00" stroke="#555" stroke-width="0.8" />
<line x1="484.40" y1="555.80" x2="484.40" y2="660.00" stroke="#555" stroke-width="0.8" />
<line x1="461.50" y1="660.00" x2="461.50" y2="663.00" stroke="#555" stroke-width="0.7" />
<text x="459.90" y="672.50" font-size="8.0" text-anchor="middle" fill="#333">−1</text>
<line x1="484.40" y1="660.00" x2="484.40" y2="663.00" stroke="#555" stroke-width="0.7" />
<text x="484.40" y="672.50" font-size="8.0" text-anchor="middle" fill="#333">0</text>
<line x1="507.30" y1="660.00" x2="507.30" y2="663.00" stroke="#555" stroke-width="0.7" />
<text x="507.30" y="672.50" font-size="8.0" text-anchor="middle" fill="#333">1</text>
<line x1="530.20" y1="660.00" x2="530.20" y2="663.00" stroke="#555" stroke-width="0.7" />
<text x="530.20" y="672.50" font-size="8.0" text-anchor="middle" fill="#333">2</text>
<line x1="442.70" y1="570.20" x2="445.70" y2="570.20" stroke="#555" stroke-width="0.7" />
<text x="439.20" y="572.80" font-size="8.6" text-anchor="end">T<tspan baseline-shift="-2.2" font-size="6.3">RM</tspan></text>
<line x1="442.70" y1="595.40" x2="445.70" y2="595.40" stroke="#555" stroke-width="0.7" />
<text x="425.40" y="598.00" font-size="8.6">T<tspan baseline-shift="-2.2" font-size="6.3">M</tspan></text>
<line x1="442.70" y1="620.40" x2="445.70" y2="620.40" stroke="#555" stroke-width="0.7" />
<text x="439.20" y="623.00" font-size="8.6" text-anchor="end">T<tspan baseline-shift="-2.2" font-size="6.3">ex</tspan></text>
<line x1="442.70" y1="645.50" x2="445.70" y2="645.50" stroke="#555" stroke-width="0.7" />
<text x="439.20" y="648.10" font-size="8.6" text-anchor="end">T<tspan baseline-shift="-2.2" font-size="6.3">Act</tspan></text>
<line x1="484.40" y1="567.60" x2="544.63" y2="567.60" stroke="#555" stroke-width="0.7" />
<circle cx="544.63" cy="567.60" r="2.50" fill="#e8141c" stroke="none" stroke-width="0.6" />
<line x1="484.40" y1="573.30" x2="545.77" y2="573.30" stroke="#555" stroke-width="0.7" />
<circle cx="545.77" cy="573.30" r="2.60" fill="#0a0ae0" stroke="none" stroke-width="0.6" />
<line x1="484.40" y1="598.00" x2="514.63" y2="598.00" stroke="#555" stroke-width="0.7" />
<circle cx="514.63" cy="598.00" r="1.60" fill="#0a0ae0" stroke="none" stroke-width="0.6" />
<line x1="484.40" y1="622.80" x2="530.66" y2="622.80" stroke="#555" stroke-width="0.7" />
<circle cx="530.66" cy="622.80" r="2.60" fill="#0a0ae0" stroke="none" stroke-width="0.6" />
<line x1="484.40" y1="642.30" x2="450.28" y2="642.30" stroke="#555" stroke-width="0.7" />
<circle cx="450.28" cy="642.30" r="2.50" fill="#e8141c" stroke="none" stroke-width="0.6" />
<circle cx="579.20" cy="561.40" r="3.00" fill="#ee3030" stroke="none" stroke-width="0.6" />
<text x="587.40" y="563.80" font-size="8.3" textLength="39.30" lengthAdjust="spacingAndGlyphs"><tspan font-style="italic">Pdcd1</tspan> WT</text>
<circle cx="579.20" cy="574.40" r="3.00" fill="#1212e6" stroke="none" stroke-width="0.6" />
<text x="587.40" y="577.00" font-size="8.3" textLength="38.80" lengthAdjust="spacingAndGlyphs"><tspan font-style="italic">Pdcd1</tspan> KO</text>
<text x="598.50" y="604.80" font-size="8.3" text-anchor="middle">−log<tspan baseline-shift="-1.8" font-size="5.8">10</tspan></text>
<text x="598.60" y="614.60" font-size="8.3" text-anchor="middle" textLength="33.70" lengthAdjust="spacingAndGlyphs">(<tspan font-style="italic">P</tspan> value)</text>
<circle cx="588.40" cy="628.50" r="1.30" fill="#111" stroke="none" stroke-width="0.6" />
<text x="595.30" y="631.00" font-size="8.3">1</text>
<circle cx="588.40" cy="640.50" r="2.20" fill="#111" stroke="none" stroke-width="0.6" />
<text x="595.30" y="643.00" font-size="8.3">2</text>
<circle cx="588.40" cy="653.70" r="3.00" fill="#111" stroke="none" stroke-width="0.6" />
<text x="595.30" y="656.20" font-size="8.3">3</text>
<text x="485.70" y="685.80" font-size="8.3" text-anchor="middle" textLength="15.80" lengthAdjust="spacingAndGlyphs">NES</text>
<line x1="437.00" y1="692.80" x2="481.10" y2="692.80" stroke="#46546f" stroke-width="1.2" />
<path d="M432.4,692.8 L438.5,690.1 L438.5,695.5 Z" fill="#46546f" stroke="none" stroke-width="0.6" />
<line x1="489.40" y1="692.80" x2="543.00" y2="692.80" stroke="#46546f" stroke-width="1.2" />
<path d="M547.7,692.8 L541.6,690.1 L541.6,695.5 Z" fill="#46546f" stroke="none" stroke-width="0.6" />
<text x="434.50" y="705.30" font-size="8.5" textLength="42.50" lengthAdjust="spacingAndGlyphs">Repressed</text>
<text x="489.40" y="705.30" font-size="8.5" textLength="36.20" lengthAdjust="spacingAndGlyphs">Enforced</text>
<text x="-0.60" y="711.80" font-size="13.5" fill="#000" font-weight="bold" stroke="#000" stroke-width="0.35">f</text>
<line x1="36.40" y1="746.00" x2="36.40" y2="712.00" stroke="#46546f" stroke-width="1.2" />
<path d="M36.4,707.5 L33.8,713.5 L39.0,713.5 Z" fill="#46546f" stroke="none" stroke-width="0.6" />
<text x="0.00" y="0.00" font-size="8.3" text-anchor="middle" textLength="30.50" lengthAdjust="spacingAndGlyphs" transform="translate(33.2,765.8) rotate(-90)">Percent</text>
<text x="0.00" y="0.00" font-size="8.3" text-anchor="middle" textLength="27.00" lengthAdjust="spacingAndGlyphs" transform="translate(41.0,765.8) rotate(-90)">of max</text>
<path d="M70.00,783.60 L76.30,783.30 L81.60,781.80 L85.80,778.60 L90.00,774.40 L93.10,769.10 L95.80,761.80 L96.80,758.10 L97.50,758.80 L98.90,750.20 L101.00,743.90 L102.10,740.20 L103.40,742.30 L105.20,742.30 L106.30,746.00 L107.90,757.60 L110.00,772.30 L113.10,783.30 L114.50,783.80 L114.50,784 L70.00,784 Z" fill="#fcc08a" stroke="#f0a050" stroke-width="0.6" />
<line x1="103.70" y1="709.50" x2="103.70" y2="784.00" stroke="#a0a0a0" stroke-width="1.2" />
<path d="M46.20,759.20 L70.00,759.20 L80.50,757.60 L86.30,756.30 L92.60,751.30 L95.80,746.00 L97.90,741.30 L100.00,734.40 L101.50,725.00 L102.10,720.20 L103.10,721.30 L103.90,717.10 L105.20,715.50 L106.30,719.70 L107.90,731.30 L110.00,747.10 L112.10,755.50 L115.20,758.80 L120.40,759.20" fill="none" stroke="#f5a35e" stroke-width="0.7" stroke-linejoin="round"/>
<line x1="46.20" y1="708.30" x2="46.20" y2="784.00" stroke="#f0a050" stroke-width="1.0" />
<line x1="46.20" y1="784.00" x2="120.40" y2="784.00" stroke="#777" stroke-width="0.9" />
<text x="54.00" y="795.60" font-size="7.8" text-anchor="middle" fill="#333">0</text>
<text x="67.00" y="795.60" font-size="7.8" text-anchor="middle" fill="#333">10<tspan baseline-shift="3.3" font-size="5.7">1</tspan></text>
<text x="82.20" y="795.60" font-size="7.8" text-anchor="middle" fill="#333">10<tspan baseline-shift="3.3" font-size="5.7">2</tspan></text>
<text x="97.40" y="795.60" font-size="7.8" text-anchor="middle" fill="#333">10<tspan baseline-shift="3.3" font-size="5.7">3</tspan></text>
<text x="112.60" y="795.60" font-size="7.8" text-anchor="middle" fill="#333">10<tspan baseline-shift="3.3" font-size="5.7">4</tspan></text>
<text x="46.20" y="808.00" font-size="8.3" textLength="20.30" lengthAdjust="spacingAndGlyphs">T-bet</text>
<line x1="68.70" y1="806.20" x2="116.00" y2="806.20" stroke="#46546f" stroke-width="1.1" />
<path d="M120.00,806.2 L114.50,803.8 L114.50,808.6 Z" fill="#46546f" stroke="none" stroke-width="0.6" />
<path d="M155.00,784.20 C155.65,784.15 157.48,784.22 158.90,783.90 C160.32,783.58 161.95,782.95 163.50,782.30 C165.05,781.65 166.83,781.27 168.20,780.00 C169.57,778.73 170.33,777.13 171.70,774.70 C173.07,772.27 175.13,768.70 176.40,765.40 C177.67,762.10 178.43,758.50 179.30,754.90 C180.17,751.30 180.92,746.18 181.60,743.80 C182.28,741.42 182.82,740.98 183.40,740.60 C183.98,740.22 184.52,740.28 185.10,741.50 C185.68,742.72 186.32,745.28 186.90,747.90 C187.48,750.52 187.82,754.58 188.60,757.20 C189.38,759.82 190.33,759.13 191.60,763.60 C192.87,768.07 195.43,780.60 196.20,784.00 L196.20,784 L155.00,784 Z" fill="#b3b3b3" stroke="#555" stroke-width="0.6" />
<line x1="183.30" y1="709.50" x2="183.30" y2="784.00" stroke="#a0a0a0" stroke-width="1.2" />
<path d="M126.70,759.30 L150.70,759.30 L153.00,758.20 L160.00,757.80 L162.40,756.60 L164.10,754.90 L165.90,755.50 L168.20,753.70 L171.10,751.40 L172.90,747.90 L174.60,742.00 L176.40,740.90 L178.10,737.40 L179.30,731.50 L181.10,729.80 L182.20,723.40 L183.40,716.40 L184.60,714.60 L185.70,717.50 L187.50,723.40 L189.00,728.00 L191.00,728.60 L192.20,731.50 L193.90,745.50 L196.20,752.60 L198.60,757.80 L201.90,759.30" fill="none" stroke="#555" stroke-width="0.7" stroke-linejoin="round"/>
<line x1="126.70" y1="708.30" x2="126.70" y2="784.00" stroke="#777" stroke-width="1.0" />
<line x1="126.70" y1="784.00" x2="201.90" y2="784.00" stroke="#777" stroke-width="0.9" />
<text x="134.90" y="795.60" font-size="7.8" text-anchor="middle" fill="#333">0</text>
<text x="149.00" y="795.60" font-size="7.8" text-anchor="middle" fill="#333">10<tspan baseline-shift="3.3" font-size="5.7">1</tspan></text>
<text x="164.60" y="795.60" font-size="7.8" text-anchor="middle" fill="#333">10<tspan baseline-shift="3.3" font-size="5.7">2</tspan></text>
<text x="178.70" y="795.60" font-size="7.8" text-anchor="middle" fill="#333">10<tspan baseline-shift="3.3" font-size="5.7">3</tspan></text>
<text x="194.40" y="795.60" font-size="7.8" text-anchor="middle" fill="#333">10<tspan baseline-shift="3.3" font-size="5.7">4</tspan></text>
<text x="126.70" y="808.00" font-size="8.3" textLength="26.80" lengthAdjust="spacingAndGlyphs">Eomes</text>
<line x1="154.70" y1="806.20" x2="197.90" y2="806.20" stroke="#46546f" stroke-width="1.1" />
<path d="M201.90,806.2 L196.40,803.8 L196.40,808.6 Z" fill="#46546f" stroke="none" stroke-width="0.6" />
<path d="M215.00,784.10 C216.88,783.88 222.88,784.12 226.30,782.80 C229.72,781.48 232.88,779.93 235.50,776.20 C238.12,772.47 240.25,765.87 242.00,760.40 C243.75,754.93 244.90,747.22 246.00,743.40 C247.10,739.58 247.50,735.97 248.60,737.50 C249.70,739.03 251.07,747.25 252.60,752.60 C254.13,757.95 256.05,764.35 257.80,769.60 C259.55,774.85 262.22,781.68 263.10,784.10 L263.10,784 L215.00,784 Z" fill="#c392f0" stroke="#9048d8" stroke-width="0.6" />
<line x1="246.60" y1="709.50" x2="246.60" y2="784.00" stroke="#a0a0a0" stroke-width="1.2" />
<path d="M207.90,759.10 C210.53,759.10 219.77,759.65 223.70,759.10 C227.63,758.55 228.88,758.20 231.50,755.80 C234.12,753.40 237.20,748.52 239.40,744.70 C241.60,740.88 243.17,735.87 244.70,732.90 C246.23,729.93 247.40,726.68 248.60,726.90 C249.80,727.12 250.58,730.58 251.90,734.20 C253.22,737.82 254.63,744.45 256.50,748.60 C258.37,752.75 258.83,757.35 263.10,759.10 C267.37,760.85 278.93,759.10 282.10,759.10" fill="none" stroke="#9a55e0" stroke-width="0.7" stroke-linejoin="round"/>
<line x1="207.90" y1="708.30" x2="207.90" y2="784.00" stroke="#9b5fdc" stroke-width="1.0" />
<line x1="207.90" y1="784.00" x2="282.10" y2="784.00" stroke="#777" stroke-width="0.9" />
<text x="215.50" y="795.60" font-size="7.8" text-anchor="middle" fill="#333">0</text>
<text x="229.10" y="795.60" font-size="7.8" text-anchor="middle" fill="#333">10<tspan baseline-shift="3.3" font-size="5.7">1</tspan></text>
<text x="245.30" y="795.60" font-size="7.8" text-anchor="middle" fill="#333">10<tspan baseline-shift="3.3" font-size="5.7">2</tspan></text>
<text x="260.10" y="795.60" font-size="7.8" text-anchor="middle" fill="#333">10<tspan baseline-shift="3.3" font-size="5.7">3</tspan></text>
<text x="275.00" y="795.60" font-size="7.8" text-anchor="middle" fill="#333">10<tspan baseline-shift="3.3" font-size="5.7">4</tspan></text>
<text x="207.90" y="808.00" font-size="8.3" textLength="25.60" lengthAdjust="spacingAndGlyphs">KLRG1</text>
<line x1="233.50" y1="806.20" x2="277.30" y2="806.20" stroke="#46546f" stroke-width="1.1" />
<path d="M281.30,806.2 L275.80,803.8 L275.80,808.6 Z" fill="#46546f" stroke="none" stroke-width="0.6" />
<path d="M315.00,783.40 C315.95,783.25 318.87,783.70 320.70,782.50 C322.53,781.30 324.47,779.65 326.00,776.20 C327.53,772.75 328.70,767.50 329.90,761.80 C331.10,756.10 332.27,746.28 333.20,742.00 C334.13,737.72 334.73,736.10 335.50,736.10 C336.27,736.10 336.98,737.72 337.80,742.00 C338.62,746.28 339.30,754.90 340.40,761.80 C341.50,768.70 343.73,779.80 344.40,783.40 L344.40,784 L315.00,784 Z" fill="#a9cb8c" stroke="#6a9a40" stroke-width="0.6" />
<line x1="333.20" y1="709.50" x2="333.20" y2="784.00" stroke="#a0a0a0" stroke-width="1.2" />
<path d="M288.50,758.50 C293.65,758.50 313.15,759.05 319.40,758.50 C325.65,757.95 324.25,757.50 326.00,755.20 C327.75,752.90 328.80,749.08 329.90,744.70 C331.00,740.32 331.67,733.68 332.60,728.90 C333.53,724.12 334.52,716.43 335.50,716.00 C336.48,715.57 337.57,721.30 338.50,726.30 C339.43,731.30 340.12,740.63 341.10,746.00 C342.08,751.37 340.57,756.42 344.40,758.50 C348.23,760.58 360.82,758.50 364.10,758.50" fill="none" stroke="#78a852" stroke-width="0.7" stroke-linejoin="round"/>
<line x1="288.50" y1="708.30" x2="288.50" y2="784.00" stroke="#777" stroke-width="1.0" />
<line x1="288.50" y1="784.00" x2="364.10" y2="784.00" stroke="#777" stroke-width="0.9" />
<text x="292.50" y="795.60" font-size="7.8" text-anchor="middle" fill="#333">10<tspan baseline-shift="3.3" font-size="5.7">1</tspan></text>
<text x="309.40" y="795.60" font-size="7.8" text-anchor="middle" fill="#333">10<tspan baseline-shift="3.3" font-size="5.7">2</tspan></text>
<text x="331.90" y="795.60" font-size="7.8" text-anchor="middle" fill="#333">10<tspan baseline-shift="3.3" font-size="5.7">3</tspan></text>
<text x="353.20" y="795.60" font-size="7.8" text-anchor="middle" fill="#333">10<tspan baseline-shift="3.3" font-size="5.7">4</tspan></text>
<text x="288.50" y="808.00" font-size="8.3" textLength="24.20" lengthAdjust="spacingAndGlyphs">CD127</text>
<line x1="314.20" y1="806.20" x2="357.80" y2="806.20" stroke="#46546f" stroke-width="1.1" />
<path d="M361.80,806.2 L356.30,803.8 L356.30,808.6 Z" fill="#46546f" stroke="none" stroke-width="0.6" />
<circle cx="386.40" cy="727.10" r="2.80" fill="#fff" stroke="#222" stroke-width="1.0" />
<text x="393.00" y="729.90" font-size="8.3"><tspan font-style="italic">PD-1</tspan><tspan baseline-shift="3.2" font-size="5.5">−/−</tspan></text>
<circle cx="386.40" cy="743.10" r="2.80" fill="#7a7a7a" stroke="#333" stroke-width="1.0" />
<text x="393.00" y="745.90" font-size="8.3"><tspan font-style="italic">PD-1</tspan><tspan baseline-shift="3.2" font-size="5.5">+/+</tspan></text>
</svg>
</body></html>
